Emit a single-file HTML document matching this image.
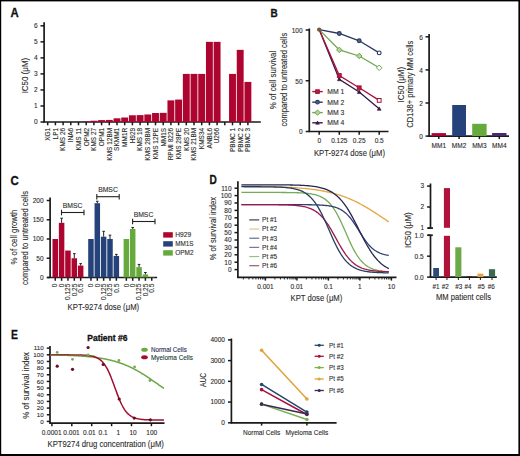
<!DOCTYPE html>
<html><head><meta charset="utf-8"><style>
html,body{margin:0;padding:0;background:#fff;}
body{width:520px;height:456px;overflow:hidden;position:relative;}
svg{position:absolute;left:0;top:0;font-family:"Liberation Sans", sans-serif;}
.frame{position:absolute;left:0;top:0;width:520px;height:456px;box-sizing:border-box;border-style:solid;border-color:#000;border-width:1px 2px 2px 1px;}
</style></head><body>
<svg width="520" height="456" viewBox="0 0 520 456" font-family='"Liberation Sans", sans-serif'>
<text x="10.60" y="16.90" font-size="12" text-anchor="start" font-weight="bold" fill="#111" stroke="#111" stroke-width="0.3" textLength="8.2" lengthAdjust="spacingAndGlyphs">A</text>
<line x1="44.10" y1="22.30" x2="44.10" y2="122.60" stroke="#1a1a1a" stroke-width="1.7"/>
<line x1="40.50" y1="122.00" x2="44.10" y2="122.00" stroke="#1a1a1a" stroke-width="1.5"/>
<text x="37.70" y="124.30" font-size="6.5" text-anchor="end" font-weight="normal" fill="#2a2a2a" stroke="#2a2a2a" stroke-width="0.1">0</text>
<line x1="40.50" y1="105.97" x2="44.10" y2="105.97" stroke="#1a1a1a" stroke-width="1.5"/>
<text x="37.70" y="108.27" font-size="6.5" text-anchor="end" font-weight="normal" fill="#2a2a2a" stroke="#2a2a2a" stroke-width="0.1">1</text>
<line x1="40.50" y1="89.94" x2="44.10" y2="89.94" stroke="#1a1a1a" stroke-width="1.5"/>
<text x="37.70" y="92.24" font-size="6.5" text-anchor="end" font-weight="normal" fill="#2a2a2a" stroke="#2a2a2a" stroke-width="0.1">2</text>
<line x1="40.50" y1="73.91" x2="44.10" y2="73.91" stroke="#1a1a1a" stroke-width="1.5"/>
<text x="37.70" y="76.21" font-size="6.5" text-anchor="end" font-weight="normal" fill="#2a2a2a" stroke="#2a2a2a" stroke-width="0.1">3</text>
<line x1="40.50" y1="57.88" x2="44.10" y2="57.88" stroke="#1a1a1a" stroke-width="1.5"/>
<text x="37.70" y="60.18" font-size="6.5" text-anchor="end" font-weight="normal" fill="#2a2a2a" stroke="#2a2a2a" stroke-width="0.1">4</text>
<line x1="40.50" y1="41.85" x2="44.10" y2="41.85" stroke="#1a1a1a" stroke-width="1.5"/>
<text x="37.70" y="44.15" font-size="6.5" text-anchor="end" font-weight="normal" fill="#2a2a2a" stroke="#2a2a2a" stroke-width="0.1">5</text>
<line x1="40.50" y1="25.82" x2="44.10" y2="25.82" stroke="#1a1a1a" stroke-width="1.5"/>
<text x="37.70" y="28.12" font-size="6.5" text-anchor="end" font-weight="normal" fill="#2a2a2a" stroke="#2a2a2a" stroke-width="0.1">6</text>
<text transform="translate(28.30,75.60) rotate(-90)" font-size="8.8" text-anchor="middle" font-weight="normal" fill="#2a2a2a" stroke="#2a2a2a" stroke-width="0.1" textLength="35.5" lengthAdjust="spacingAndGlyphs">IC50 (μM)</text>
<line x1="43.50" y1="122.00" x2="260.80" y2="122.00" stroke="#1a1a1a" stroke-width="1.7"/>
<line x1="47.70" y1="122.00" x2="47.70" y2="125.30" stroke="#1a1a1a" stroke-width="1.5"/>
<text transform="translate(50.00,127.80) rotate(-90)" font-size="6.5" text-anchor="end" font-weight="normal" fill="#2a2a2a" stroke="#2a2a2a" stroke-width="0.1">XG1</text>
<line x1="55.40" y1="122.00" x2="55.40" y2="125.30" stroke="#1a1a1a" stroke-width="1.5"/>
<text transform="translate(57.70,127.80) rotate(-90)" font-size="6.5" text-anchor="end" font-weight="normal" fill="#2a2a2a" stroke="#2a2a2a" stroke-width="0.1">LP1</text>
<line x1="63.10" y1="122.00" x2="63.10" y2="125.30" stroke="#1a1a1a" stroke-width="1.5"/>
<text transform="translate(65.40,127.80) rotate(-90)" font-size="6.5" text-anchor="end" font-weight="normal" fill="#2a2a2a" stroke="#2a2a2a" stroke-width="0.1">KMS 26</text>
<line x1="70.80" y1="122.00" x2="70.80" y2="125.30" stroke="#1a1a1a" stroke-width="1.5"/>
<text transform="translate(73.10,127.80) rotate(-90)" font-size="6.5" text-anchor="end" font-weight="normal" fill="#2a2a2a" stroke="#2a2a2a" stroke-width="0.1">INA6</text>
<rect x="75.05" y="121.84" width="6.90" height="0.16" fill="#ae0530"/>
<line x1="78.50" y1="122.00" x2="78.50" y2="125.30" stroke="#1a1a1a" stroke-width="1.5"/>
<text transform="translate(80.80,127.80) rotate(-90)" font-size="6.5" text-anchor="end" font-weight="normal" fill="#2a2a2a" stroke="#2a2a2a" stroke-width="0.1">KMS 11</text>
<rect x="82.75" y="121.52" width="6.90" height="0.48" fill="#ae0530"/>
<line x1="86.20" y1="122.00" x2="86.20" y2="125.30" stroke="#1a1a1a" stroke-width="1.5"/>
<text transform="translate(88.50,127.80) rotate(-90)" font-size="6.5" text-anchor="end" font-weight="normal" fill="#2a2a2a" stroke="#2a2a2a" stroke-width="0.1">OPM2</text>
<rect x="90.45" y="120.72" width="6.90" height="1.28" fill="#ae0530"/>
<line x1="93.90" y1="122.00" x2="93.90" y2="125.30" stroke="#1a1a1a" stroke-width="1.5"/>
<text transform="translate(96.20,127.80) rotate(-90)" font-size="6.5" text-anchor="end" font-weight="normal" fill="#2a2a2a" stroke="#2a2a2a" stroke-width="0.1">KMS 27</text>
<rect x="98.15" y="120.08" width="6.90" height="1.92" fill="#ae0530"/>
<line x1="101.60" y1="122.00" x2="101.60" y2="125.30" stroke="#1a1a1a" stroke-width="1.5"/>
<text transform="translate(103.90,127.80) rotate(-90)" font-size="6.5" text-anchor="end" font-weight="normal" fill="#2a2a2a" stroke="#2a2a2a" stroke-width="0.1">OPM1</text>
<rect x="105.85" y="119.92" width="6.90" height="2.08" fill="#ae0530"/>
<line x1="109.30" y1="122.00" x2="109.30" y2="125.30" stroke="#1a1a1a" stroke-width="1.5"/>
<text transform="translate(111.60,127.80) rotate(-90)" font-size="6.5" text-anchor="end" font-weight="normal" fill="#2a2a2a" stroke="#2a2a2a" stroke-width="0.1">KMS 12BM</text>
<rect x="113.55" y="118.31" width="6.90" height="3.69" fill="#ae0530"/>
<line x1="117.00" y1="122.00" x2="117.00" y2="125.30" stroke="#1a1a1a" stroke-width="1.5"/>
<text transform="translate(119.30,127.80) rotate(-90)" font-size="6.5" text-anchor="end" font-weight="normal" fill="#2a2a2a" stroke="#2a2a2a" stroke-width="0.1">SKMM1</text>
<rect x="121.25" y="117.51" width="6.90" height="4.49" fill="#ae0530"/>
<line x1="124.70" y1="122.00" x2="124.70" y2="125.30" stroke="#1a1a1a" stroke-width="1.5"/>
<text transform="translate(127.00,127.80) rotate(-90)" font-size="6.5" text-anchor="end" font-weight="normal" fill="#2a2a2a" stroke="#2a2a2a" stroke-width="0.1">MM1R</text>
<rect x="128.95" y="115.27" width="6.90" height="6.73" fill="#ae0530"/>
<line x1="132.40" y1="122.00" x2="132.40" y2="125.30" stroke="#1a1a1a" stroke-width="1.5"/>
<text transform="translate(134.70,127.80) rotate(-90)" font-size="6.5" text-anchor="end" font-weight="normal" fill="#2a2a2a" stroke="#2a2a2a" stroke-width="0.1">H929</text>
<rect x="136.65" y="115.11" width="6.90" height="6.89" fill="#ae0530"/>
<line x1="140.10" y1="122.00" x2="140.10" y2="125.30" stroke="#1a1a1a" stroke-width="1.5"/>
<text transform="translate(142.40,127.80) rotate(-90)" font-size="6.5" text-anchor="end" font-weight="normal" fill="#2a2a2a" stroke="#2a2a2a" stroke-width="0.1">KMS 18</text>
<rect x="144.35" y="114.47" width="6.90" height="7.53" fill="#ae0530"/>
<line x1="147.80" y1="122.00" x2="147.80" y2="125.30" stroke="#1a1a1a" stroke-width="1.5"/>
<text transform="translate(150.10,127.80) rotate(-90)" font-size="6.5" text-anchor="end" font-weight="normal" fill="#2a2a2a" stroke="#2a2a2a" stroke-width="0.1">KMS 28BM</text>
<rect x="152.05" y="113.02" width="6.90" height="8.98" fill="#ae0530"/>
<line x1="155.50" y1="122.00" x2="155.50" y2="125.30" stroke="#1a1a1a" stroke-width="1.5"/>
<text transform="translate(157.80,127.80) rotate(-90)" font-size="6.5" text-anchor="end" font-weight="normal" fill="#2a2a2a" stroke="#2a2a2a" stroke-width="0.1">KMS 12PE</text>
<rect x="159.75" y="112.86" width="6.90" height="9.14" fill="#ae0530"/>
<line x1="163.20" y1="122.00" x2="163.20" y2="125.30" stroke="#1a1a1a" stroke-width="1.5"/>
<text transform="translate(165.50,127.80) rotate(-90)" font-size="6.5" text-anchor="end" font-weight="normal" fill="#2a2a2a" stroke="#2a2a2a" stroke-width="0.1">MM1S</text>
<rect x="167.45" y="100.36" width="6.90" height="21.64" fill="#ae0530"/>
<line x1="170.90" y1="122.00" x2="170.90" y2="125.30" stroke="#1a1a1a" stroke-width="1.5"/>
<text transform="translate(173.20,127.80) rotate(-90)" font-size="6.5" text-anchor="end" font-weight="normal" fill="#2a2a2a" stroke="#2a2a2a" stroke-width="0.1">RPMI 8226</text>
<rect x="175.15" y="99.56" width="6.90" height="22.44" fill="#ae0530"/>
<line x1="178.60" y1="122.00" x2="178.60" y2="125.30" stroke="#1a1a1a" stroke-width="1.5"/>
<text transform="translate(180.90,127.80) rotate(-90)" font-size="6.5" text-anchor="end" font-weight="normal" fill="#2a2a2a" stroke="#2a2a2a" stroke-width="0.1">KMS 28PE</text>
<rect x="182.85" y="73.91" width="6.90" height="48.09" fill="#ae0530"/>
<line x1="186.30" y1="122.00" x2="186.30" y2="125.30" stroke="#1a1a1a" stroke-width="1.5"/>
<text transform="translate(188.60,127.80) rotate(-90)" font-size="6.5" text-anchor="end" font-weight="normal" fill="#2a2a2a" stroke="#2a2a2a" stroke-width="0.1">KMS 20</text>
<rect x="190.55" y="73.91" width="6.90" height="48.09" fill="#ae0530"/>
<line x1="194.00" y1="122.00" x2="194.00" y2="125.30" stroke="#1a1a1a" stroke-width="1.5"/>
<text transform="translate(196.30,127.80) rotate(-90)" font-size="6.5" text-anchor="end" font-weight="normal" fill="#2a2a2a" stroke="#2a2a2a" stroke-width="0.1">KMS 21BM</text>
<rect x="198.25" y="73.91" width="6.90" height="48.09" fill="#ae0530"/>
<line x1="201.70" y1="122.00" x2="201.70" y2="125.30" stroke="#1a1a1a" stroke-width="1.5"/>
<text transform="translate(204.00,127.80) rotate(-90)" font-size="6.5" text-anchor="end" font-weight="normal" fill="#2a2a2a" stroke="#2a2a2a" stroke-width="0.1">KMS34</text>
<rect x="205.95" y="41.85" width="6.90" height="80.15" fill="#ae0530"/>
<line x1="209.40" y1="122.00" x2="209.40" y2="125.30" stroke="#1a1a1a" stroke-width="1.5"/>
<text transform="translate(211.70,127.80) rotate(-90)" font-size="6.5" text-anchor="end" font-weight="normal" fill="#2a2a2a" stroke="#2a2a2a" stroke-width="0.1">ANBL6</text>
<rect x="213.65" y="41.85" width="6.90" height="80.15" fill="#ae0530"/>
<line x1="217.10" y1="122.00" x2="217.10" y2="125.30" stroke="#1a1a1a" stroke-width="1.5"/>
<text transform="translate(219.40,127.80) rotate(-90)" font-size="6.5" text-anchor="end" font-weight="normal" fill="#2a2a2a" stroke="#2a2a2a" stroke-width="0.1">U266</text>
<line x1="224.80" y1="122.00" x2="224.80" y2="125.30" stroke="#1a1a1a" stroke-width="1.5"/>
<rect x="229.05" y="73.91" width="6.90" height="48.09" fill="#ae0530"/>
<line x1="232.50" y1="122.00" x2="232.50" y2="125.30" stroke="#1a1a1a" stroke-width="1.5"/>
<text transform="translate(234.80,127.80) rotate(-90)" font-size="6.5" text-anchor="end" font-weight="normal" fill="#2a2a2a" stroke="#2a2a2a" stroke-width="0.1">PBMC 1</text>
<rect x="236.75" y="49.86" width="6.90" height="72.14" fill="#ae0530"/>
<line x1="240.20" y1="122.00" x2="240.20" y2="125.30" stroke="#1a1a1a" stroke-width="1.5"/>
<text transform="translate(242.50,127.80) rotate(-90)" font-size="6.5" text-anchor="end" font-weight="normal" fill="#2a2a2a" stroke="#2a2a2a" stroke-width="0.1">PBMC 2</text>
<rect x="244.45" y="81.92" width="6.90" height="40.08" fill="#ae0530"/>
<line x1="247.90" y1="122.00" x2="247.90" y2="125.30" stroke="#1a1a1a" stroke-width="1.5"/>
<text transform="translate(250.20,127.80) rotate(-90)" font-size="6.5" text-anchor="end" font-weight="normal" fill="#2a2a2a" stroke="#2a2a2a" stroke-width="0.1">PBMC 3</text>
<text x="270.50" y="16.80" font-size="11.8" text-anchor="start" font-weight="bold" fill="#111" stroke="#111" stroke-width="0.3" textLength="7.2" lengthAdjust="spacingAndGlyphs">B</text>
<line x1="309.30" y1="28.50" x2="309.30" y2="132.10" stroke="#1a1a1a" stroke-width="1.7"/>
<line x1="305.70" y1="131.50" x2="309.30" y2="131.50" stroke="#1a1a1a" stroke-width="1.5"/>
<text x="302.60" y="134.30" font-size="6.5" text-anchor="end" font-weight="normal" fill="#2a2a2a" stroke="#2a2a2a" stroke-width="0.1">0</text>
<line x1="305.70" y1="80.75" x2="309.30" y2="80.75" stroke="#1a1a1a" stroke-width="1.5"/>
<text x="302.60" y="83.55" font-size="6.5" text-anchor="end" font-weight="normal" fill="#2a2a2a" stroke="#2a2a2a" stroke-width="0.1">50</text>
<line x1="305.70" y1="30.00" x2="309.30" y2="30.00" stroke="#1a1a1a" stroke-width="1.5"/>
<text x="302.60" y="32.80" font-size="6.5" text-anchor="end" font-weight="normal" fill="#2a2a2a" stroke="#2a2a2a" stroke-width="0.1">100</text>
<line x1="308.70" y1="131.50" x2="388.50" y2="131.50" stroke="#1a1a1a" stroke-width="1.7"/>
<line x1="319.20" y1="131.50" x2="319.20" y2="134.80" stroke="#1a1a1a" stroke-width="1.5"/>
<text x="319.20" y="143.20" font-size="6.5" text-anchor="middle" font-weight="normal" fill="#2a2a2a" stroke="#2a2a2a" stroke-width="0.1">0</text>
<line x1="339.30" y1="131.50" x2="339.30" y2="134.80" stroke="#1a1a1a" stroke-width="1.5"/>
<text x="339.30" y="143.20" font-size="6.5" text-anchor="middle" font-weight="normal" fill="#2a2a2a" stroke="#2a2a2a" stroke-width="0.1">0.125</text>
<line x1="359.20" y1="131.50" x2="359.20" y2="134.80" stroke="#1a1a1a" stroke-width="1.5"/>
<text x="359.20" y="143.20" font-size="6.5" text-anchor="middle" font-weight="normal" fill="#2a2a2a" stroke="#2a2a2a" stroke-width="0.1">0.25</text>
<line x1="379.20" y1="131.50" x2="379.20" y2="134.80" stroke="#1a1a1a" stroke-width="1.5"/>
<text x="379.20" y="143.20" font-size="6.5" text-anchor="middle" font-weight="normal" fill="#2a2a2a" stroke="#2a2a2a" stroke-width="0.1">0.5</text>
<text x="349.50" y="156.30" font-size="8.8" text-anchor="middle" font-weight="normal" fill="#2a2a2a" stroke="#2a2a2a" stroke-width="0.1" textLength="71" lengthAdjust="spacingAndGlyphs">KPT-9274 dose (μM)</text>
<text transform="translate(276.30,80.00) rotate(-90)" font-size="8.8" text-anchor="middle" font-weight="normal" fill="#2a2a2a" stroke="#2a2a2a" stroke-width="0.1" textLength="58.4" lengthAdjust="spacingAndGlyphs">% of cell survival</text>
<text transform="translate(286.60,79.65) rotate(-90)" font-size="8.8" text-anchor="middle" font-weight="normal" fill="#2a2a2a" stroke="#2a2a2a" stroke-width="0.1" textLength="93.7" lengthAdjust="spacingAndGlyphs">compared to untreated cells</text>
<path d="M319.20,29.60 L339.30,79.20 L359.20,92.00 L379.20,108.80" stroke="#34184a" stroke-width="1.3" fill="none"/>
<path d="M319.20,29.60 L339.30,49.90 L359.20,56.00 L379.20,67.80" stroke="#70a44c" stroke-width="1.3" fill="none"/>
<path d="M319.20,29.60 L339.30,33.50 L359.20,40.80 L379.20,52.90" stroke="#283862" stroke-width="1.3" fill="none"/>
<path d="M319.20,29.60 L339.30,75.50 L359.20,87.80 L379.20,100.40" stroke="#a8103a" stroke-width="1.3" fill="none"/>
<path d="M339.30,77.30 L341.20,80.72 L337.40,80.72 Z" fill="#34184a" stroke="#34184a" stroke-width="0.6"/>
<path d="M359.20,90.10 L361.10,93.52 L357.30,93.52 Z" fill="#34184a" stroke="#34184a" stroke-width="0.6"/>
<path d="M379.20,106.90 L381.10,110.32 L377.30,110.32 Z" fill="#34184a" stroke="#34184a" stroke-width="0.6"/>
<path d="M339.30,47.14 L342.06,49.90 L339.30,52.66 L336.55,49.90 Z" fill="#b6d4a0" stroke="#70a44c" stroke-width="1.0"/>
<path d="M359.20,53.24 L361.95,56.00 L359.20,58.76 L356.44,56.00 Z" fill="#b6d4a0" stroke="#70a44c" stroke-width="1.0"/>
<path d="M379.20,65.05 L381.95,67.80 L379.20,70.55 L376.44,67.80 Z" fill="#fff" stroke="#70a44c" stroke-width="1.0"/>
<circle cx="339.30" cy="33.50" r="1.90" fill="#56648a" stroke="#283862" stroke-width="1.1"/>
<circle cx="359.20" cy="40.80" r="1.90" fill="#56648a" stroke="#283862" stroke-width="1.1"/>
<circle cx="379.20" cy="52.90" r="1.90" fill="#fff" stroke="#283862" stroke-width="1.1"/>
<rect x="337.40" y="73.60" width="3.80" height="3.80" fill="#b02040" stroke="#a8103a" stroke-width="1.0"/>
<rect x="357.30" y="85.90" width="3.80" height="3.80" fill="#b02040" stroke="#a8103a" stroke-width="1.0"/>
<rect x="377.30" y="98.50" width="3.80" height="3.80" fill="#fff" stroke="#a8103a" stroke-width="1.0"/>
<circle cx="319.2" cy="29.6" r="2.2" fill="#7a5a3a"/>
<line x1="312.30" y1="91.60" x2="322.70" y2="91.60" stroke="#a8103a" stroke-width="1.4"/>
<rect x="315.70" y="89.80" width="3.60" height="3.60" fill="#b02040" stroke="#a8103a" stroke-width="1.0"/>
<text x="327.30" y="94.00" font-size="6.8" text-anchor="start" font-weight="normal" fill="#2a2a2a" stroke="#2a2a2a" stroke-width="0.1">MM 1</text>
<line x1="312.30" y1="102.20" x2="322.70" y2="102.20" stroke="#283862" stroke-width="1.4"/>
<circle cx="317.50" cy="102.20" r="1.80" fill="#56648a" stroke="#283862" stroke-width="1.1"/>
<text x="327.30" y="104.60" font-size="6.8" text-anchor="start" font-weight="normal" fill="#2a2a2a" stroke="#2a2a2a" stroke-width="0.1">MM 2</text>
<line x1="312.30" y1="112.60" x2="322.70" y2="112.60" stroke="#70a44c" stroke-width="1.4"/>
<path d="M317.50,109.99 L320.11,112.60 L317.50,115.21 L314.89,112.60 Z" fill="#b6d4a0" stroke="#70a44c" stroke-width="1.0"/>
<text x="327.30" y="115.00" font-size="6.8" text-anchor="start" font-weight="normal" fill="#2a2a2a" stroke="#2a2a2a" stroke-width="0.1">MM 3</text>
<line x1="312.30" y1="122.80" x2="322.70" y2="122.80" stroke="#34184a" stroke-width="1.4"/>
<path d="M317.50,121.00 L319.30,124.24 L315.70,124.24 Z" fill="#34184a" stroke="#34184a" stroke-width="0.6"/>
<text x="327.30" y="125.20" font-size="6.8" text-anchor="start" font-weight="normal" fill="#2a2a2a" stroke="#2a2a2a" stroke-width="0.1">MM 4</text>
<line x1="429.10" y1="34.00" x2="429.10" y2="136.70" stroke="#1a1a1a" stroke-width="1.7"/>
<line x1="425.50" y1="136.10" x2="429.10" y2="136.10" stroke="#1a1a1a" stroke-width="1.5"/>
<text x="422.90" y="139.00" font-size="6.5" text-anchor="end" font-weight="normal" fill="#2a2a2a" stroke="#2a2a2a" stroke-width="0.1">0</text>
<line x1="425.50" y1="103.00" x2="429.10" y2="103.00" stroke="#1a1a1a" stroke-width="1.5"/>
<text x="422.90" y="105.90" font-size="6.5" text-anchor="end" font-weight="normal" fill="#2a2a2a" stroke="#2a2a2a" stroke-width="0.1">2</text>
<line x1="425.50" y1="69.90" x2="429.10" y2="69.90" stroke="#1a1a1a" stroke-width="1.5"/>
<text x="422.90" y="72.80" font-size="6.5" text-anchor="end" font-weight="normal" fill="#2a2a2a" stroke="#2a2a2a" stroke-width="0.1">4</text>
<line x1="425.50" y1="36.80" x2="429.10" y2="36.80" stroke="#1a1a1a" stroke-width="1.5"/>
<text x="422.90" y="39.70" font-size="6.5" text-anchor="end" font-weight="normal" fill="#2a2a2a" stroke="#2a2a2a" stroke-width="0.1">6</text>
<line x1="428.50" y1="136.10" x2="509.00" y2="136.10" stroke="#1a1a1a" stroke-width="1.7"/>
<rect x="431.60" y="133.10" width="14.40" height="3.00" fill="#ae0530"/>
<line x1="438.80" y1="136.10" x2="438.80" y2="139.10" stroke="#1a1a1a" stroke-width="1.5"/>
<text x="438.80" y="148.30" font-size="6.5" text-anchor="middle" font-weight="normal" fill="#2a2a2a" stroke="#2a2a2a" stroke-width="0.1">MM1</text>
<rect x="452.20" y="105.00" width="13.80" height="31.10" fill="#26427a"/>
<line x1="459.10" y1="136.10" x2="459.10" y2="139.10" stroke="#1a1a1a" stroke-width="1.5"/>
<text x="459.10" y="148.30" font-size="6.5" text-anchor="middle" font-weight="normal" fill="#2a2a2a" stroke="#2a2a2a" stroke-width="0.1">MM2</text>
<rect x="472.20" y="123.80" width="14.40" height="12.30" fill="#66aa3e"/>
<line x1="479.40" y1="136.10" x2="479.40" y2="139.10" stroke="#1a1a1a" stroke-width="1.5"/>
<text x="479.40" y="148.30" font-size="6.5" text-anchor="middle" font-weight="normal" fill="#2a2a2a" stroke="#2a2a2a" stroke-width="0.1">MM3</text>
<rect x="492.10" y="133.00" width="14.40" height="3.10" fill="#4a2a6a"/>
<line x1="499.30" y1="136.10" x2="499.30" y2="139.10" stroke="#1a1a1a" stroke-width="1.5"/>
<text x="499.30" y="148.30" font-size="6.5" text-anchor="middle" font-weight="normal" fill="#2a2a2a" stroke="#2a2a2a" stroke-width="0.1">MM4</text>
<text transform="translate(404.20,84.70) rotate(-90)" font-size="8.8" text-anchor="middle" font-weight="normal" fill="#2a2a2a" stroke="#2a2a2a" stroke-width="0.1" textLength="35.5" lengthAdjust="spacingAndGlyphs">IC50 (μM)</text>
<text transform="translate(413.20,84.20) rotate(-90)" font-size="8.8" text-anchor="middle" font-weight="normal" fill="#2a2a2a" stroke="#2a2a2a" stroke-width="0.1" textLength="87" lengthAdjust="spacingAndGlyphs">CD138+ primary MM cells</text>
<text x="10.50" y="185.30" font-size="12" text-anchor="start" font-weight="bold" fill="#111" stroke="#111" stroke-width="0.3" textLength="8.3" lengthAdjust="spacingAndGlyphs">C</text>
<line x1="50.10" y1="197.50" x2="50.10" y2="278.10" stroke="#1a1a1a" stroke-width="1.7"/>
<line x1="46.70" y1="277.50" x2="50.10" y2="277.50" stroke="#1a1a1a" stroke-width="1.5"/>
<text x="43.60" y="279.80" font-size="6.5" text-anchor="end" font-weight="normal" fill="#2a2a2a" stroke="#2a2a2a" stroke-width="0.1">0</text>
<line x1="46.70" y1="258.25" x2="50.10" y2="258.25" stroke="#1a1a1a" stroke-width="1.5"/>
<text x="43.60" y="260.55" font-size="6.5" text-anchor="end" font-weight="normal" fill="#2a2a2a" stroke="#2a2a2a" stroke-width="0.1">50</text>
<line x1="46.70" y1="239.00" x2="50.10" y2="239.00" stroke="#1a1a1a" stroke-width="1.5"/>
<text x="43.60" y="241.30" font-size="6.5" text-anchor="end" font-weight="normal" fill="#2a2a2a" stroke="#2a2a2a" stroke-width="0.1">100</text>
<line x1="46.70" y1="219.75" x2="50.10" y2="219.75" stroke="#1a1a1a" stroke-width="1.5"/>
<text x="43.60" y="222.05" font-size="6.5" text-anchor="end" font-weight="normal" fill="#2a2a2a" stroke="#2a2a2a" stroke-width="0.1">150</text>
<line x1="46.70" y1="200.50" x2="50.10" y2="200.50" stroke="#1a1a1a" stroke-width="1.5"/>
<text x="43.60" y="202.80" font-size="6.5" text-anchor="end" font-weight="normal" fill="#2a2a2a" stroke="#2a2a2a" stroke-width="0.1">200</text>
<line x1="47.20" y1="277.50" x2="157.10" y2="277.50" stroke="#1a1a1a" stroke-width="1.7"/>
<rect x="52.50" y="239.00" width="5.50" height="38.50" fill="#ae0530"/>
<line x1="55.25" y1="277.50" x2="55.25" y2="280.80" stroke="#1a1a1a" stroke-width="1.5"/>
<text transform="translate(57.45,283.70) rotate(-90)" font-size="6.5" text-anchor="end" font-weight="normal" fill="#2a2a2a" stroke="#2a2a2a" stroke-width="0.1">0</text>
<rect x="58.85" y="222.83" width="5.50" height="54.67" fill="#ae0530"/>
<line x1="61.60" y1="222.83" x2="61.60" y2="218.21" stroke="#222" stroke-width="1.0"/>
<line x1="60.30" y1="218.21" x2="62.90" y2="218.21" stroke="#222" stroke-width="1.0"/>
<line x1="61.60" y1="277.50" x2="61.60" y2="280.80" stroke="#1a1a1a" stroke-width="1.5"/>
<text transform="translate(63.80,283.70) rotate(-90)" font-size="6.5" text-anchor="end" font-weight="normal" fill="#2a2a2a" stroke="#2a2a2a" stroke-width="0.1">0</text>
<rect x="65.20" y="250.55" width="5.50" height="26.95" fill="#ae0530"/>
<line x1="67.95" y1="277.50" x2="67.95" y2="280.80" stroke="#1a1a1a" stroke-width="1.5"/>
<text transform="translate(70.15,283.70) rotate(-90)" font-size="6.5" text-anchor="end" font-weight="normal" fill="#2a2a2a" stroke="#2a2a2a" stroke-width="0.1">0.125</text>
<rect x="71.55" y="258.25" width="5.50" height="19.25" fill="#ae0530"/>
<line x1="74.30" y1="258.25" x2="74.30" y2="253.63" stroke="#222" stroke-width="1.0"/>
<line x1="73.00" y1="253.63" x2="75.60" y2="253.63" stroke="#222" stroke-width="1.0"/>
<line x1="74.30" y1="277.50" x2="74.30" y2="280.80" stroke="#1a1a1a" stroke-width="1.5"/>
<text transform="translate(76.50,283.70) rotate(-90)" font-size="6.5" text-anchor="end" font-weight="normal" fill="#2a2a2a" stroke="#2a2a2a" stroke-width="0.1">0.25</text>
<rect x="77.90" y="265.56" width="5.50" height="11.94" fill="#ae0530"/>
<line x1="80.65" y1="265.56" x2="80.65" y2="263.64" stroke="#222" stroke-width="1.0"/>
<line x1="79.35" y1="263.64" x2="81.95" y2="263.64" stroke="#222" stroke-width="1.0"/>
<line x1="80.65" y1="277.50" x2="80.65" y2="280.80" stroke="#1a1a1a" stroke-width="1.5"/>
<text transform="translate(82.85,283.70) rotate(-90)" font-size="6.5" text-anchor="end" font-weight="normal" fill="#2a2a2a" stroke="#2a2a2a" stroke-width="0.1">0.5</text>
<rect x="88.20" y="239.00" width="5.50" height="38.50" fill="#26427a"/>
<line x1="90.95" y1="277.50" x2="90.95" y2="280.80" stroke="#1a1a1a" stroke-width="1.5"/>
<text transform="translate(93.15,283.70) rotate(-90)" font-size="6.5" text-anchor="end" font-weight="normal" fill="#2a2a2a" stroke="#2a2a2a" stroke-width="0.1">0</text>
<rect x="94.55" y="203.19" width="5.50" height="74.31" fill="#26427a"/>
<line x1="97.30" y1="203.19" x2="97.30" y2="201.27" stroke="#222" stroke-width="1.0"/>
<line x1="96.00" y1="201.27" x2="98.60" y2="201.27" stroke="#222" stroke-width="1.0"/>
<line x1="97.30" y1="277.50" x2="97.30" y2="280.80" stroke="#1a1a1a" stroke-width="1.5"/>
<text transform="translate(99.50,283.70) rotate(-90)" font-size="6.5" text-anchor="end" font-weight="normal" fill="#2a2a2a" stroke="#2a2a2a" stroke-width="0.1">0</text>
<rect x="100.90" y="236.69" width="5.50" height="40.81" fill="#26427a"/>
<line x1="103.65" y1="236.69" x2="103.65" y2="231.30" stroke="#222" stroke-width="1.0"/>
<line x1="102.35" y1="231.30" x2="104.95" y2="231.30" stroke="#222" stroke-width="1.0"/>
<line x1="103.65" y1="277.50" x2="103.65" y2="280.80" stroke="#1a1a1a" stroke-width="1.5"/>
<text transform="translate(105.85,283.70) rotate(-90)" font-size="6.5" text-anchor="end" font-weight="normal" fill="#2a2a2a" stroke="#2a2a2a" stroke-width="0.1">0.125</text>
<rect x="107.25" y="239.00" width="5.50" height="38.50" fill="#26427a"/>
<line x1="110.00" y1="239.00" x2="110.00" y2="235.15" stroke="#222" stroke-width="1.0"/>
<line x1="108.70" y1="235.15" x2="111.30" y2="235.15" stroke="#222" stroke-width="1.0"/>
<line x1="110.00" y1="277.50" x2="110.00" y2="280.80" stroke="#1a1a1a" stroke-width="1.5"/>
<text transform="translate(112.20,283.70) rotate(-90)" font-size="6.5" text-anchor="end" font-weight="normal" fill="#2a2a2a" stroke="#2a2a2a" stroke-width="0.1">0.25</text>
<rect x="113.60" y="255.94" width="5.50" height="21.56" fill="#26427a"/>
<line x1="116.35" y1="255.94" x2="116.35" y2="254.40" stroke="#222" stroke-width="1.0"/>
<line x1="115.05" y1="254.40" x2="117.65" y2="254.40" stroke="#222" stroke-width="1.0"/>
<line x1="116.35" y1="277.50" x2="116.35" y2="280.80" stroke="#1a1a1a" stroke-width="1.5"/>
<text transform="translate(118.55,283.70) rotate(-90)" font-size="6.5" text-anchor="end" font-weight="normal" fill="#2a2a2a" stroke="#2a2a2a" stroke-width="0.1">0.5</text>
<rect x="123.60" y="239.00" width="5.50" height="38.50" fill="#66aa3e"/>
<line x1="126.35" y1="277.50" x2="126.35" y2="280.80" stroke="#1a1a1a" stroke-width="1.5"/>
<text transform="translate(128.55,283.70) rotate(-90)" font-size="6.5" text-anchor="end" font-weight="normal" fill="#2a2a2a" stroke="#2a2a2a" stroke-width="0.1">0</text>
<rect x="129.95" y="228.99" width="5.50" height="48.51" fill="#66aa3e"/>
<line x1="132.70" y1="228.99" x2="132.70" y2="227.45" stroke="#222" stroke-width="1.0"/>
<line x1="131.40" y1="227.45" x2="134.00" y2="227.45" stroke="#222" stroke-width="1.0"/>
<line x1="132.70" y1="277.50" x2="132.70" y2="280.80" stroke="#1a1a1a" stroke-width="1.5"/>
<text transform="translate(134.90,283.70) rotate(-90)" font-size="6.5" text-anchor="end" font-weight="normal" fill="#2a2a2a" stroke="#2a2a2a" stroke-width="0.1">0</text>
<rect x="136.30" y="267.11" width="5.50" height="10.40" fill="#66aa3e"/>
<line x1="139.05" y1="267.11" x2="139.05" y2="264.41" stroke="#222" stroke-width="1.0"/>
<line x1="137.75" y1="264.41" x2="140.35" y2="264.41" stroke="#222" stroke-width="1.0"/>
<line x1="139.05" y1="277.50" x2="139.05" y2="280.80" stroke="#1a1a1a" stroke-width="1.5"/>
<text transform="translate(141.25,283.70) rotate(-90)" font-size="6.5" text-anchor="end" font-weight="normal" fill="#2a2a2a" stroke="#2a2a2a" stroke-width="0.1">0.125</text>
<rect x="142.65" y="274.42" width="5.50" height="3.08" fill="#66aa3e"/>
<line x1="145.40" y1="274.42" x2="145.40" y2="272.50" stroke="#222" stroke-width="1.0"/>
<line x1="144.10" y1="272.50" x2="146.70" y2="272.50" stroke="#222" stroke-width="1.0"/>
<line x1="145.40" y1="277.50" x2="145.40" y2="280.80" stroke="#1a1a1a" stroke-width="1.5"/>
<text transform="translate(147.60,283.70) rotate(-90)" font-size="6.5" text-anchor="end" font-weight="normal" fill="#2a2a2a" stroke="#2a2a2a" stroke-width="0.1">0.25</text>
<rect x="149.00" y="277.12" width="5.50" height="0.39" fill="#66aa3e"/>
<line x1="151.75" y1="277.50" x2="151.75" y2="280.80" stroke="#1a1a1a" stroke-width="1.5"/>
<text transform="translate(153.95,283.70) rotate(-90)" font-size="6.5" text-anchor="end" font-weight="normal" fill="#2a2a2a" stroke="#2a2a2a" stroke-width="0.1">0.5</text>
<line x1="61.50" y1="212.50" x2="84.00" y2="212.50" stroke="#222" stroke-width="1.1"/>
<line x1="61.50" y1="209.70" x2="61.50" y2="215.30" stroke="#222" stroke-width="1.1"/>
<line x1="84.00" y1="209.70" x2="84.00" y2="215.30" stroke="#222" stroke-width="1.1"/>
<text x="72.60" y="207.80" font-size="6.8" text-anchor="middle" font-weight="normal" fill="#2a2a2a" stroke="#2a2a2a" stroke-width="0.1">BMSC</text>
<line x1="96.80" y1="196.70" x2="119.20" y2="196.70" stroke="#222" stroke-width="1.1"/>
<line x1="96.80" y1="193.90" x2="96.80" y2="199.50" stroke="#222" stroke-width="1.1"/>
<line x1="119.20" y1="193.90" x2="119.20" y2="199.50" stroke="#222" stroke-width="1.1"/>
<text x="108.00" y="192.00" font-size="6.8" text-anchor="middle" font-weight="normal" fill="#2a2a2a" stroke="#2a2a2a" stroke-width="0.1">BMSC</text>
<line x1="132.60" y1="221.50" x2="155.00" y2="221.50" stroke="#222" stroke-width="1.1"/>
<line x1="132.60" y1="218.70" x2="132.60" y2="224.30" stroke="#222" stroke-width="1.1"/>
<line x1="155.00" y1="218.70" x2="155.00" y2="224.30" stroke="#222" stroke-width="1.1"/>
<text x="143.50" y="216.80" font-size="6.8" text-anchor="middle" font-weight="normal" fill="#2a2a2a" stroke="#2a2a2a" stroke-width="0.1">BMSC</text>
<rect x="163.20" y="232.20" width="9.60" height="5.40" fill="#ae0530"/>
<text x="175.30" y="237.40" font-size="7" text-anchor="start" font-weight="normal" fill="#2a2a2a" stroke="#2a2a2a" stroke-width="0.1" textLength="15.9" lengthAdjust="spacingAndGlyphs">H929</text>
<rect x="163.20" y="241.20" width="9.60" height="5.40" fill="#26427a"/>
<text x="175.30" y="246.40" font-size="7" text-anchor="start" font-weight="normal" fill="#2a2a2a" stroke="#2a2a2a" stroke-width="0.1" textLength="18.3" lengthAdjust="spacingAndGlyphs">MM1S</text>
<rect x="163.20" y="250.20" width="9.60" height="5.40" fill="#66aa3e"/>
<text x="175.30" y="255.40" font-size="7" text-anchor="start" font-weight="normal" fill="#2a2a2a" stroke="#2a2a2a" stroke-width="0.1" textLength="18.3" lengthAdjust="spacingAndGlyphs">OPM2</text>
<text transform="translate(17.40,237.05) rotate(-90)" font-size="8.8" text-anchor="middle" font-weight="normal" fill="#2a2a2a" stroke="#2a2a2a" stroke-width="0.1" textLength="54.9" lengthAdjust="spacingAndGlyphs">% of cell growth</text>
<text transform="translate(27.50,238.00) rotate(-90)" font-size="8.8" text-anchor="middle" font-weight="normal" fill="#2a2a2a" stroke="#2a2a2a" stroke-width="0.1" textLength="94.2" lengthAdjust="spacingAndGlyphs">compared to untreated cells</text>
<text x="67.60" y="310.30" font-size="8.8" text-anchor="start" font-weight="normal" fill="#2a2a2a" stroke="#2a2a2a" stroke-width="0.1" textLength="71.6" lengthAdjust="spacingAndGlyphs">KPT-9274 dose (μM)</text>
<text x="209.50" y="183.80" font-size="12.3" text-anchor="start" font-weight="bold" fill="#111" stroke="#111" stroke-width="0.3" textLength="7.3" lengthAdjust="spacingAndGlyphs">D</text>
<line x1="237.90" y1="181.20" x2="237.90" y2="277.90" stroke="#1a1a1a" stroke-width="1.7"/>
<line x1="234.50" y1="269.60" x2="237.90" y2="269.60" stroke="#1a1a1a" stroke-width="1.5"/>
<text x="231.60" y="271.90" font-size="6.5" text-anchor="end" font-weight="normal" fill="#2a2a2a" stroke="#2a2a2a" stroke-width="0.1">0</text>
<line x1="234.50" y1="262.20" x2="237.90" y2="262.20" stroke="#1a1a1a" stroke-width="1.5"/>
<text x="231.60" y="264.50" font-size="6.5" text-anchor="end" font-weight="normal" fill="#2a2a2a" stroke="#2a2a2a" stroke-width="0.1">10</text>
<line x1="234.50" y1="254.80" x2="237.90" y2="254.80" stroke="#1a1a1a" stroke-width="1.5"/>
<text x="231.60" y="257.10" font-size="6.5" text-anchor="end" font-weight="normal" fill="#2a2a2a" stroke="#2a2a2a" stroke-width="0.1">20</text>
<line x1="234.50" y1="247.40" x2="237.90" y2="247.40" stroke="#1a1a1a" stroke-width="1.5"/>
<text x="231.60" y="249.70" font-size="6.5" text-anchor="end" font-weight="normal" fill="#2a2a2a" stroke="#2a2a2a" stroke-width="0.1">30</text>
<line x1="234.50" y1="240.00" x2="237.90" y2="240.00" stroke="#1a1a1a" stroke-width="1.5"/>
<text x="231.60" y="242.30" font-size="6.5" text-anchor="end" font-weight="normal" fill="#2a2a2a" stroke="#2a2a2a" stroke-width="0.1">40</text>
<line x1="234.50" y1="232.60" x2="237.90" y2="232.60" stroke="#1a1a1a" stroke-width="1.5"/>
<text x="231.60" y="234.90" font-size="6.5" text-anchor="end" font-weight="normal" fill="#2a2a2a" stroke="#2a2a2a" stroke-width="0.1">50</text>
<line x1="234.50" y1="225.20" x2="237.90" y2="225.20" stroke="#1a1a1a" stroke-width="1.5"/>
<text x="231.60" y="227.50" font-size="6.5" text-anchor="end" font-weight="normal" fill="#2a2a2a" stroke="#2a2a2a" stroke-width="0.1">60</text>
<line x1="234.50" y1="217.80" x2="237.90" y2="217.80" stroke="#1a1a1a" stroke-width="1.5"/>
<text x="231.60" y="220.10" font-size="6.5" text-anchor="end" font-weight="normal" fill="#2a2a2a" stroke="#2a2a2a" stroke-width="0.1">70</text>
<line x1="234.50" y1="210.40" x2="237.90" y2="210.40" stroke="#1a1a1a" stroke-width="1.5"/>
<text x="231.60" y="212.70" font-size="6.5" text-anchor="end" font-weight="normal" fill="#2a2a2a" stroke="#2a2a2a" stroke-width="0.1">80</text>
<line x1="234.50" y1="203.00" x2="237.90" y2="203.00" stroke="#1a1a1a" stroke-width="1.5"/>
<text x="231.60" y="205.30" font-size="6.5" text-anchor="end" font-weight="normal" fill="#2a2a2a" stroke="#2a2a2a" stroke-width="0.1">90</text>
<line x1="234.50" y1="195.60" x2="237.90" y2="195.60" stroke="#1a1a1a" stroke-width="1.5"/>
<text x="231.60" y="197.90" font-size="6.5" text-anchor="end" font-weight="normal" fill="#2a2a2a" stroke="#2a2a2a" stroke-width="0.1">100</text>
<line x1="234.50" y1="188.20" x2="237.90" y2="188.20" stroke="#1a1a1a" stroke-width="1.5"/>
<text x="231.60" y="190.50" font-size="6.5" text-anchor="end" font-weight="normal" fill="#2a2a2a" stroke="#2a2a2a" stroke-width="0.1">110</text>
<line x1="237.30" y1="277.30" x2="396.50" y2="277.30" stroke="#1a1a1a" stroke-width="1.7"/>
<line x1="243.38" y1="277.30" x2="243.38" y2="279.50" stroke="#1a1a1a" stroke-width="0.9"/>
<line x1="248.93" y1="277.30" x2="248.93" y2="279.50" stroke="#1a1a1a" stroke-width="0.9"/>
<line x1="252.86" y1="277.30" x2="252.86" y2="279.50" stroke="#1a1a1a" stroke-width="0.9"/>
<line x1="255.92" y1="277.30" x2="255.92" y2="279.50" stroke="#1a1a1a" stroke-width="0.9"/>
<line x1="258.41" y1="277.30" x2="258.41" y2="279.50" stroke="#1a1a1a" stroke-width="0.9"/>
<line x1="260.52" y1="277.30" x2="260.52" y2="279.50" stroke="#1a1a1a" stroke-width="0.9"/>
<line x1="262.35" y1="277.30" x2="262.35" y2="279.50" stroke="#1a1a1a" stroke-width="0.9"/>
<line x1="263.96" y1="277.30" x2="263.96" y2="279.50" stroke="#1a1a1a" stroke-width="0.9"/>
<line x1="265.40" y1="277.30" x2="265.40" y2="280.60" stroke="#1a1a1a" stroke-width="1.5"/>
<line x1="274.88" y1="277.30" x2="274.88" y2="279.50" stroke="#1a1a1a" stroke-width="0.9"/>
<line x1="280.43" y1="277.30" x2="280.43" y2="279.50" stroke="#1a1a1a" stroke-width="0.9"/>
<line x1="284.36" y1="277.30" x2="284.36" y2="279.50" stroke="#1a1a1a" stroke-width="0.9"/>
<line x1="287.42" y1="277.30" x2="287.42" y2="279.50" stroke="#1a1a1a" stroke-width="0.9"/>
<line x1="289.91" y1="277.30" x2="289.91" y2="279.50" stroke="#1a1a1a" stroke-width="0.9"/>
<line x1="292.02" y1="277.30" x2="292.02" y2="279.50" stroke="#1a1a1a" stroke-width="0.9"/>
<line x1="293.85" y1="277.30" x2="293.85" y2="279.50" stroke="#1a1a1a" stroke-width="0.9"/>
<line x1="295.46" y1="277.30" x2="295.46" y2="279.50" stroke="#1a1a1a" stroke-width="0.9"/>
<line x1="296.90" y1="277.30" x2="296.90" y2="280.60" stroke="#1a1a1a" stroke-width="1.5"/>
<line x1="306.38" y1="277.30" x2="306.38" y2="279.50" stroke="#1a1a1a" stroke-width="0.9"/>
<line x1="311.93" y1="277.30" x2="311.93" y2="279.50" stroke="#1a1a1a" stroke-width="0.9"/>
<line x1="315.86" y1="277.30" x2="315.86" y2="279.50" stroke="#1a1a1a" stroke-width="0.9"/>
<line x1="318.92" y1="277.30" x2="318.92" y2="279.50" stroke="#1a1a1a" stroke-width="0.9"/>
<line x1="321.41" y1="277.30" x2="321.41" y2="279.50" stroke="#1a1a1a" stroke-width="0.9"/>
<line x1="323.52" y1="277.30" x2="323.52" y2="279.50" stroke="#1a1a1a" stroke-width="0.9"/>
<line x1="325.35" y1="277.30" x2="325.35" y2="279.50" stroke="#1a1a1a" stroke-width="0.9"/>
<line x1="326.96" y1="277.30" x2="326.96" y2="279.50" stroke="#1a1a1a" stroke-width="0.9"/>
<line x1="328.40" y1="277.30" x2="328.40" y2="280.60" stroke="#1a1a1a" stroke-width="1.5"/>
<line x1="337.88" y1="277.30" x2="337.88" y2="279.50" stroke="#1a1a1a" stroke-width="0.9"/>
<line x1="343.43" y1="277.30" x2="343.43" y2="279.50" stroke="#1a1a1a" stroke-width="0.9"/>
<line x1="347.36" y1="277.30" x2="347.36" y2="279.50" stroke="#1a1a1a" stroke-width="0.9"/>
<line x1="350.42" y1="277.30" x2="350.42" y2="279.50" stroke="#1a1a1a" stroke-width="0.9"/>
<line x1="352.91" y1="277.30" x2="352.91" y2="279.50" stroke="#1a1a1a" stroke-width="0.9"/>
<line x1="355.02" y1="277.30" x2="355.02" y2="279.50" stroke="#1a1a1a" stroke-width="0.9"/>
<line x1="356.85" y1="277.30" x2="356.85" y2="279.50" stroke="#1a1a1a" stroke-width="0.9"/>
<line x1="358.46" y1="277.30" x2="358.46" y2="279.50" stroke="#1a1a1a" stroke-width="0.9"/>
<line x1="359.90" y1="277.30" x2="359.90" y2="280.60" stroke="#1a1a1a" stroke-width="1.5"/>
<line x1="369.38" y1="277.30" x2="369.38" y2="279.50" stroke="#1a1a1a" stroke-width="0.9"/>
<line x1="374.93" y1="277.30" x2="374.93" y2="279.50" stroke="#1a1a1a" stroke-width="0.9"/>
<line x1="378.86" y1="277.30" x2="378.86" y2="279.50" stroke="#1a1a1a" stroke-width="0.9"/>
<line x1="381.92" y1="277.30" x2="381.92" y2="279.50" stroke="#1a1a1a" stroke-width="0.9"/>
<line x1="384.41" y1="277.30" x2="384.41" y2="279.50" stroke="#1a1a1a" stroke-width="0.9"/>
<line x1="386.52" y1="277.30" x2="386.52" y2="279.50" stroke="#1a1a1a" stroke-width="0.9"/>
<line x1="388.35" y1="277.30" x2="388.35" y2="279.50" stroke="#1a1a1a" stroke-width="0.9"/>
<line x1="389.96" y1="277.30" x2="389.96" y2="279.50" stroke="#1a1a1a" stroke-width="0.9"/>
<line x1="391.40" y1="277.30" x2="391.40" y2="280.60" stroke="#1a1a1a" stroke-width="1.5"/>
<text x="265.40" y="289.10" font-size="6.5" text-anchor="middle" font-weight="normal" fill="#2a2a2a" stroke="#2a2a2a" stroke-width="0.1">0.001</text>
<text x="296.90" y="289.10" font-size="6.5" text-anchor="middle" font-weight="normal" fill="#2a2a2a" stroke="#2a2a2a" stroke-width="0.1">0.01</text>
<text x="328.40" y="289.10" font-size="6.5" text-anchor="middle" font-weight="normal" fill="#2a2a2a" stroke="#2a2a2a" stroke-width="0.1">0.1</text>
<text x="359.90" y="289.10" font-size="6.5" text-anchor="middle" font-weight="normal" fill="#2a2a2a" stroke="#2a2a2a" stroke-width="0.1">1</text>
<text x="391.40" y="289.10" font-size="6.5" text-anchor="middle" font-weight="normal" fill="#2a2a2a" stroke="#2a2a2a" stroke-width="0.1">10</text>
<text x="316.40" y="300.50" font-size="8.8" text-anchor="middle" font-weight="normal" fill="#2a2a2a" stroke="#2a2a2a" stroke-width="0.1" textLength="51.8" lengthAdjust="spacingAndGlyphs">KPT dose (μM)</text>
<text transform="translate(216.00,228.60) rotate(-90)" font-size="8.8" text-anchor="middle" font-weight="normal" fill="#2a2a2a" stroke="#2a2a2a" stroke-width="0.1" textLength="63.5" lengthAdjust="spacingAndGlyphs">% of survival index</text>
<path d="M241.40,186.27 L242.38,186.28 L243.37,186.29 L244.35,186.30 L245.33,186.31 L246.31,186.31 L247.30,186.32 L248.28,186.33 L249.26,186.34 L250.24,186.35 L251.23,186.37 L252.21,186.38 L253.19,186.39 L254.17,186.40 L255.16,186.41 L256.14,186.43 L257.12,186.44 L258.11,186.46 L259.09,186.47 L260.07,186.49 L261.05,186.50 L262.04,186.52 L263.02,186.54 L264.00,186.56 L264.98,186.58 L265.97,186.60 L266.95,186.62 L267.93,186.64 L268.91,186.66 L269.90,186.68 L270.88,186.71 L271.86,186.73 L272.85,186.76 L273.83,186.79 L274.81,186.82 L275.79,186.84 L276.78,186.88 L277.76,186.91 L278.74,186.94 L279.72,186.98 L280.71,187.01 L281.69,187.05 L282.67,187.09 L283.65,187.13 L284.64,187.17 L285.62,187.22 L286.60,187.26 L287.59,187.31 L288.57,187.36 L289.55,187.41 L290.53,187.46 L291.52,187.52 L292.50,187.57 L293.48,187.63 L294.46,187.70 L295.45,187.76 L296.43,187.83 L297.41,187.90 L298.39,187.97 L299.38,188.04 L300.36,188.12 L301.34,188.20 L302.33,188.29 L303.31,188.38 L304.29,188.47 L305.27,188.56 L306.26,188.66 L307.24,188.76 L308.22,188.86 L309.20,188.97 L310.19,189.09 L311.17,189.20 L312.15,189.33 L313.13,189.45 L314.12,189.58 L315.10,189.72 L316.08,189.86 L317.07,190.01 L318.05,190.16 L319.03,190.31 L320.01,190.48 L321.00,190.64 L321.98,190.82 L322.96,191.00 L323.94,191.18 L324.93,191.38 L325.91,191.58 L326.89,191.78 L327.87,192.00 L328.86,192.22 L329.84,192.44 L330.82,192.68 L331.81,192.92 L332.79,193.17 L333.77,193.43 L334.75,193.70 L335.74,193.97 L336.72,194.26 L337.70,194.55 L338.68,194.85 L339.67,195.16 L340.65,195.48 L341.63,195.81 L342.61,196.15 L343.60,196.50 L344.58,196.85 L345.56,197.22 L346.55,197.60 L347.53,197.99 L348.51,198.38 L349.49,198.79 L350.48,199.21 L351.46,199.64 L352.44,200.08 L353.42,200.52 L354.41,200.98 L355.39,201.45 L356.37,201.93 L357.35,202.42 L358.34,202.92 L359.32,203.43 L360.30,203.95 L361.29,204.48 L362.27,205.01 L363.25,205.56 L364.23,206.12 L365.22,206.68 L366.20,207.25 L367.18,207.84 L368.16,208.43 L369.15,209.02 L370.13,209.63 L371.11,210.24 L372.09,210.86 L373.08,211.48 L374.06,212.11 L375.04,212.75 L376.03,213.38 L377.01,214.03 L377.99,214.68 L378.97,215.33 L379.96,215.98 L380.94,216.64 L381.92,217.30 L382.90,217.96 L383.89,218.62 L384.87,219.28 L385.85,219.94 L386.83,220.60 L387.82,221.25 L388.80,221.91" stroke="#e2a640" stroke-width="1.3" fill="none"/>
<path d="M241.40,192.43 L242.38,192.43 L243.37,192.43 L244.35,192.43 L245.33,192.43 L246.31,192.43 L247.30,192.43 L248.28,192.43 L249.26,192.43 L250.24,192.43 L251.23,192.43 L252.21,192.43 L253.19,192.43 L254.17,192.43 L255.16,192.43 L256.14,192.43 L257.12,192.43 L258.11,192.43 L259.09,192.43 L260.07,192.43 L261.05,192.43 L262.04,192.43 L263.02,192.43 L264.00,192.43 L264.98,192.43 L265.97,192.43 L266.95,192.43 L267.93,192.44 L268.91,192.44 L269.90,192.44 L270.88,192.44 L271.86,192.44 L272.85,192.44 L273.83,192.45 L274.81,192.45 L275.79,192.45 L276.78,192.45 L277.76,192.46 L278.74,192.46 L279.72,192.47 L280.71,192.47 L281.69,192.48 L282.67,192.48 L283.65,192.49 L284.64,192.50 L285.62,192.50 L286.60,192.51 L287.59,192.53 L288.57,192.54 L289.55,192.55 L290.53,192.57 L291.52,192.58 L292.50,192.60 L293.48,192.62 L294.46,192.65 L295.45,192.67 L296.43,192.70 L297.41,192.73 L298.39,192.77 L299.38,192.81 L300.36,192.86 L301.34,192.91 L302.33,192.97 L303.31,193.03 L304.29,193.10 L305.27,193.18 L306.26,193.27 L307.24,193.37 L308.22,193.49 L309.20,193.61 L310.19,193.75 L311.17,193.91 L312.15,194.08 L313.13,194.27 L314.12,194.49 L315.10,194.73 L316.08,194.99 L317.07,195.29 L318.05,195.62 L319.03,195.99 L320.01,196.39 L321.00,196.84 L321.98,197.33 L322.96,197.88 L323.94,198.48 L324.93,199.15 L325.91,199.88 L326.89,200.68 L327.87,201.55 L328.86,202.51 L329.84,203.54 L330.82,204.67 L331.81,205.89 L332.79,207.20 L333.77,208.61 L334.75,210.12 L335.74,211.73 L336.72,213.43 L337.70,215.22 L338.68,217.11 L339.67,219.08 L340.65,221.12 L341.63,223.23 L342.61,225.40 L343.60,227.61 L344.58,229.84 L345.56,232.10 L346.55,234.35 L347.53,236.60 L348.51,238.82 L349.49,240.99 L350.48,243.12 L351.46,245.18 L352.44,247.17 L353.42,249.08 L354.41,250.89 L355.39,252.62 L356.37,254.25 L357.35,255.79 L358.34,257.22 L359.32,258.56 L360.30,259.80 L361.29,260.95 L362.27,262.01 L363.25,262.99 L364.23,263.88 L365.22,264.70 L366.20,265.44 L367.18,266.12 L368.16,266.74 L369.15,267.30 L370.13,267.81 L371.11,268.27 L372.09,268.69 L373.08,269.06 L374.06,269.40 L375.04,269.71 L376.03,269.98 L377.01,270.23 L377.99,270.45 L378.97,270.65 L379.96,270.82 L380.94,270.98 L381.92,271.13 L382.90,271.26 L383.89,271.37 L384.87,271.47 L385.85,271.57 L386.83,271.65 L387.82,271.72 L388.80,271.79" stroke="#74ac58" stroke-width="1.3" fill="none"/>
<path d="M241.40,204.63 L242.38,204.63 L243.37,204.63 L244.35,204.63 L245.33,204.63 L246.31,204.63 L247.30,204.63 L248.28,204.63 L249.26,204.63 L250.24,204.63 L251.23,204.63 L252.21,204.63 L253.19,204.63 L254.17,204.63 L255.16,204.63 L256.14,204.63 L257.12,204.63 L258.11,204.63 L259.09,204.63 L260.07,204.63 L261.05,204.63 L262.04,204.63 L263.02,204.63 L264.00,204.63 L264.98,204.63 L265.97,204.63 L266.95,204.63 L267.93,204.63 L268.91,204.63 L269.90,204.63 L270.88,204.63 L271.86,204.63 L272.85,204.63 L273.83,204.63 L274.81,204.63 L275.79,204.63 L276.78,204.63 L277.76,204.63 L278.74,204.63 L279.72,204.63 L280.71,204.63 L281.69,204.63 L282.67,204.63 L283.65,204.63 L284.64,204.64 L285.62,204.64 L286.60,204.64 L287.59,204.64 L288.57,204.64 L289.55,204.64 L290.53,204.64 L291.52,204.64 L292.50,204.64 L293.48,204.65 L294.46,204.65 L295.45,204.65 L296.43,204.65 L297.41,204.66 L298.39,204.66 L299.38,204.66 L300.36,204.67 L301.34,204.67 L302.33,204.68 L303.31,204.68 L304.29,204.69 L305.27,204.70 L306.26,204.71 L307.24,204.72 L308.22,204.73 L309.20,204.74 L310.19,204.75 L311.17,204.77 L312.15,204.79 L313.13,204.81 L314.12,204.83 L315.10,204.86 L316.08,204.89 L317.07,204.92 L318.05,204.96 L319.03,205.00 L320.01,205.05 L321.00,205.10 L321.98,205.16 L322.96,205.23 L323.94,205.30 L324.93,205.39 L325.91,205.49 L326.89,205.60 L327.87,205.72 L328.86,205.86 L329.84,206.01 L330.82,206.19 L331.81,206.38 L332.79,206.60 L333.77,206.84 L334.75,207.12 L335.74,207.42 L336.72,207.76 L337.70,208.14 L338.68,208.56 L339.67,209.03 L340.65,209.54 L341.63,210.11 L342.61,210.74 L343.60,211.43 L344.58,212.18 L345.56,213.00 L346.55,213.89 L347.53,214.85 L348.51,215.89 L349.49,217.00 L350.48,218.19 L351.46,219.44 L352.44,220.77 L353.42,222.15 L354.41,223.60 L355.39,225.09 L356.37,226.62 L357.35,228.17 L358.34,229.75 L359.32,231.33 L360.30,232.91 L361.29,234.47 L362.27,236.00 L363.25,237.50 L364.23,238.94 L365.22,240.33 L366.20,241.66 L367.18,242.93 L368.16,244.12 L369.15,245.24 L370.13,246.28 L371.11,247.25 L372.09,248.15 L373.08,248.98 L374.06,249.73 L375.04,250.43 L376.03,251.06 L377.01,251.63 L377.99,252.15 L378.97,252.63 L379.96,253.05 L380.94,253.43 L381.92,253.77 L382.90,254.08 L383.89,254.36 L384.87,254.61 L385.85,254.83 L386.83,255.02 L387.82,255.20 L388.80,255.35" stroke="#303e72" stroke-width="1.3" fill="none"/>
<path d="M241.40,184.78 L242.38,184.78 L243.37,184.78 L244.35,184.78 L245.33,184.78 L246.31,184.78 L247.30,184.78 L248.28,184.78 L249.26,184.78 L250.24,184.78 L251.23,184.78 L252.21,184.78 L253.19,184.78 L254.17,184.78 L255.16,184.78 L256.14,184.79 L257.12,184.79 L258.11,184.79 L259.09,184.79 L260.07,184.79 L261.05,184.79 L262.04,184.79 L263.02,184.79 L264.00,184.80 L264.98,184.80 L265.97,184.80 L266.95,184.80 L267.93,184.80 L268.91,184.81 L269.90,184.81 L270.88,184.81 L271.86,184.81 L272.85,184.82 L273.83,184.82 L274.81,184.83 L275.79,184.83 L276.78,184.84 L277.76,184.84 L278.74,184.85 L279.72,184.85 L280.71,184.86 L281.69,184.87 L282.67,184.88 L283.65,184.89 L284.64,184.90 L285.62,184.91 L286.60,184.92 L287.59,184.93 L288.57,184.95 L289.55,184.96 L290.53,184.98 L291.52,185.00 L292.50,185.02 L293.48,185.04 L294.46,185.07 L295.45,185.09 L296.43,185.12 L297.41,185.15 L298.39,185.19 L299.38,185.22 L300.36,185.26 L301.34,185.31 L302.33,185.36 L303.31,185.41 L304.29,185.47 L305.27,185.53 L306.26,185.60 L307.24,185.67 L308.22,185.75 L309.20,185.84 L310.19,185.94 L311.17,186.04 L312.15,186.16 L313.13,186.28 L314.12,186.42 L315.10,186.56 L316.08,186.72 L317.07,186.90 L318.05,187.09 L319.03,187.29 L320.01,187.51 L321.00,187.76 L321.98,188.02 L322.96,188.30 L323.94,188.61 L324.93,188.95 L325.91,189.31 L326.89,189.70 L327.87,190.12 L328.86,190.58 L329.84,191.07 L330.82,191.60 L331.81,192.18 L332.79,192.79 L333.77,193.46 L334.75,194.17 L335.74,194.93 L336.72,195.74 L337.70,196.61 L338.68,197.54 L339.67,198.53 L340.65,199.57 L341.63,200.69 L342.61,201.86 L343.60,203.11 L344.58,204.41 L345.56,205.79 L346.55,207.23 L347.53,208.73 L348.51,210.30 L349.49,211.92 L350.48,213.61 L351.46,215.34 L352.44,217.13 L353.42,218.96 L354.41,220.83 L355.39,222.72 L356.37,224.65 L357.35,226.59 L358.34,228.55 L359.32,230.51 L360.30,232.46 L361.29,234.41 L362.27,236.34 L363.25,238.24 L364.23,240.11 L365.22,241.94 L366.20,243.73 L367.18,245.47 L368.16,247.15 L369.15,248.78 L370.13,250.35 L371.11,251.86 L372.09,253.30 L373.08,254.68 L374.06,255.99 L375.04,257.24 L376.03,258.42 L377.01,259.54 L377.99,260.59 L378.97,261.58 L379.96,262.51 L380.94,263.39 L381.92,264.20 L382.90,264.97 L383.89,265.68 L384.87,266.35 L385.85,266.96 L386.83,267.54 L387.82,268.07 L388.80,268.57" stroke="#262650" stroke-width="1.3" fill="none"/>
<path d="M241.40,204.60 L242.38,204.60 L243.37,204.60 L244.35,204.60 L245.33,204.60 L246.31,204.60 L247.30,204.60 L248.28,204.60 L249.26,204.60 L250.24,204.60 L251.23,204.60 L252.21,204.60 L253.19,204.60 L254.17,204.60 L255.16,204.60 L256.14,204.61 L257.12,204.61 L258.11,204.61 L259.09,204.61 L260.07,204.61 L261.05,204.61 L262.04,204.62 L263.02,204.62 L264.00,204.62 L264.98,204.62 L265.97,204.63 L266.95,204.63 L267.93,204.64 L268.91,204.64 L269.90,204.65 L270.88,204.65 L271.86,204.66 L272.85,204.67 L273.83,204.68 L274.81,204.68 L275.79,204.69 L276.78,204.71 L277.76,204.72 L278.74,204.73 L279.72,204.75 L280.71,204.77 L281.69,204.78 L282.67,204.81 L283.65,204.83 L284.64,204.86 L285.62,204.89 L286.60,204.92 L287.59,204.95 L288.57,204.99 L289.55,205.04 L290.53,205.09 L291.52,205.14 L292.50,205.20 L293.48,205.27 L294.46,205.35 L295.45,205.43 L296.43,205.52 L297.41,205.63 L298.39,205.74 L299.38,205.87 L300.36,206.01 L301.34,206.16 L302.33,206.33 L303.31,206.52 L304.29,206.73 L305.27,206.96 L306.26,207.21 L307.24,207.50 L308.22,207.80 L309.20,208.15 L310.19,208.52 L311.17,208.93 L312.15,209.38 L313.13,209.88 L314.12,210.42 L315.10,211.01 L316.08,211.65 L317.07,212.35 L318.05,213.11 L319.03,213.93 L320.01,214.82 L321.00,215.77 L321.98,216.80 L322.96,217.89 L323.94,219.06 L324.93,220.30 L325.91,221.62 L326.89,223.00 L327.87,224.46 L328.86,225.97 L329.84,227.55 L330.82,229.18 L331.81,230.86 L332.79,232.58 L333.77,234.33 L334.75,236.10 L335.74,237.89 L336.72,239.67 L337.70,241.45 L338.68,243.21 L339.67,244.95 L340.65,246.64 L341.63,248.30 L342.61,249.90 L343.60,251.44 L344.58,252.92 L345.56,254.34 L346.55,255.68 L347.53,256.96 L348.51,258.16 L349.49,259.28 L350.48,260.34 L351.46,261.32 L352.44,262.24 L353.42,263.09 L354.41,263.87 L355.39,264.60 L356.37,265.26 L357.35,265.88 L358.34,266.44 L359.32,266.95 L360.30,267.42 L361.29,267.85 L362.27,268.24 L363.25,268.59 L364.23,268.92 L365.22,269.21 L366.20,269.47 L367.18,269.72 L368.16,269.93 L369.15,270.13 L370.13,270.31 L371.11,270.47 L372.09,270.62 L373.08,270.75 L374.06,270.87 L375.04,270.97 L376.03,271.07 L377.01,271.16 L377.99,271.24 L378.97,271.31 L379.96,271.37 L380.94,271.43 L381.92,271.48 L382.90,271.53 L383.89,271.57 L384.87,271.61 L385.85,271.64 L386.83,271.67 L387.82,271.70 L388.80,271.72" stroke="#a01848" stroke-width="1.3" fill="none"/>
<path d="M241.40,186.72 L242.38,186.72 L243.37,186.72 L244.35,186.73 L245.33,186.73 L246.31,186.73 L247.30,186.73 L248.28,186.73 L249.26,186.73 L250.24,186.73 L251.23,186.74 L252.21,186.74 L253.19,186.74 L254.17,186.74 L255.16,186.75 L256.14,186.75 L257.12,186.75 L258.11,186.76 L259.09,186.76 L260.07,186.77 L261.05,186.78 L262.04,186.78 L263.02,186.79 L264.00,186.80 L264.98,186.81 L265.97,186.82 L266.95,186.83 L267.93,186.84 L268.91,186.85 L269.90,186.87 L270.88,186.89 L271.86,186.91 L272.85,186.93 L273.83,186.95 L274.81,186.98 L275.79,187.01 L276.78,187.04 L277.76,187.07 L278.74,187.11 L279.72,187.16 L280.71,187.20 L281.69,187.26 L282.67,187.32 L283.65,187.38 L284.64,187.46 L285.62,187.54 L286.60,187.63 L287.59,187.73 L288.57,187.84 L289.55,187.97 L290.53,188.10 L291.52,188.25 L292.50,188.42 L293.48,188.60 L294.46,188.81 L295.45,189.03 L296.43,189.28 L297.41,189.56 L298.39,189.86 L299.38,190.20 L300.36,190.57 L301.34,190.97 L302.33,191.42 L303.31,191.91 L304.29,192.45 L305.27,193.04 L306.26,193.68 L307.24,194.39 L308.22,195.15 L309.20,195.99 L310.19,196.90 L311.17,197.88 L312.15,198.94 L313.13,200.09 L314.12,201.32 L315.10,202.64 L316.08,204.05 L317.07,205.55 L318.05,207.14 L319.03,208.83 L320.01,210.60 L321.00,212.46 L321.98,214.40 L322.96,216.41 L323.94,218.49 L324.93,220.63 L325.91,222.82 L326.89,225.04 L327.87,227.30 L328.86,229.56 L329.84,231.83 L330.82,234.09 L331.81,236.32 L332.79,238.52 L333.77,240.67 L334.75,242.77 L335.74,244.80 L336.72,246.76 L337.70,248.64 L338.68,250.44 L339.67,252.15 L340.65,253.76 L341.63,255.29 L342.61,256.73 L343.60,258.07 L344.58,259.33 L345.56,260.49 L346.55,261.58 L347.53,262.58 L348.51,263.51 L349.49,264.36 L350.48,265.15 L351.46,265.87 L352.44,266.53 L353.42,267.13 L354.41,267.68 L355.39,268.19 L356.37,268.65 L357.35,269.06 L358.34,269.44 L359.32,269.78 L360.30,270.10 L361.29,270.38 L362.27,270.64 L363.25,270.87 L364.23,271.08 L365.22,271.27 L366.20,271.44 L367.18,271.60 L368.16,271.74 L369.15,271.86 L370.13,271.98 L371.11,272.08 L372.09,272.17 L373.08,272.26 L374.06,272.33 L375.04,272.40 L376.03,272.46 L377.01,272.52 L377.99,272.57 L378.97,272.61 L379.96,272.65 L380.94,272.69 L381.92,272.72 L382.90,272.75 L383.89,272.78 L384.87,272.80 L385.85,272.82 L386.83,272.84 L387.82,272.86 L388.80,272.88" stroke="#24405e" stroke-width="1.3" fill="none"/>
<line x1="249.30" y1="219.90" x2="259.20" y2="219.90" stroke="#404050" stroke-width="1.2"/>
<text x="262.10" y="222.30" font-size="7" text-anchor="start" font-weight="normal" fill="#2a2a2a" stroke="#2a2a2a" stroke-width="0.1" textLength="15.1" lengthAdjust="spacingAndGlyphs">Pt #1</text>
<line x1="249.30" y1="229.06" x2="259.20" y2="229.06" stroke="#d8c890" stroke-width="1.2"/>
<text x="262.10" y="231.46" font-size="7" text-anchor="start" font-weight="normal" fill="#2a2a2a" stroke="#2a2a2a" stroke-width="0.1" textLength="15.1" lengthAdjust="spacingAndGlyphs">Pt #2</text>
<line x1="249.30" y1="238.22" x2="259.20" y2="238.22" stroke="#607090" stroke-width="1.2"/>
<text x="262.10" y="240.62" font-size="7" text-anchor="start" font-weight="normal" fill="#2a2a2a" stroke="#2a2a2a" stroke-width="0.1" textLength="15.1" lengthAdjust="spacingAndGlyphs">Pt #3</text>
<line x1="249.30" y1="247.38" x2="259.20" y2="247.38" stroke="#7878a8" stroke-width="1.2"/>
<text x="262.10" y="249.78" font-size="7" text-anchor="start" font-weight="normal" fill="#2a2a2a" stroke="#2a2a2a" stroke-width="0.1" textLength="15.1" lengthAdjust="spacingAndGlyphs">Pt #4</text>
<line x1="249.30" y1="256.54" x2="259.20" y2="256.54" stroke="#90c090" stroke-width="1.2"/>
<text x="262.10" y="258.94" font-size="7" text-anchor="start" font-weight="normal" fill="#2a2a2a" stroke="#2a2a2a" stroke-width="0.1" textLength="15.1" lengthAdjust="spacingAndGlyphs">Pt #5</text>
<line x1="249.30" y1="265.70" x2="259.20" y2="265.70" stroke="#906070" stroke-width="1.2"/>
<text x="262.10" y="268.10" font-size="7" text-anchor="start" font-weight="normal" fill="#2a2a2a" stroke="#2a2a2a" stroke-width="0.1" textLength="15.1" lengthAdjust="spacingAndGlyphs">Pt #6</text>
<line x1="430.50" y1="183.50" x2="430.50" y2="228.10" stroke="#1a1a1a" stroke-width="1.7"/>
<line x1="428.00" y1="228.10" x2="433.00" y2="228.10" stroke="#1a1a1a" stroke-width="1.7"/>
<line x1="427.10" y1="186.10" x2="430.50" y2="186.10" stroke="#1a1a1a" stroke-width="1.5"/>
<text x="424.00" y="188.40" font-size="6.5" text-anchor="end" font-weight="normal" fill="#2a2a2a" stroke="#2a2a2a" stroke-width="0.1">3</text>
<line x1="427.10" y1="207.00" x2="430.50" y2="207.00" stroke="#1a1a1a" stroke-width="1.5"/>
<text x="424.00" y="209.30" font-size="6.5" text-anchor="end" font-weight="normal" fill="#2a2a2a" stroke="#2a2a2a" stroke-width="0.1">2</text>
<line x1="427.10" y1="228.10" x2="430.50" y2="228.10" stroke="#1a1a1a" stroke-width="1.5"/>
<text x="424.00" y="230.40" font-size="6.5" text-anchor="end" font-weight="normal" fill="#2a2a2a" stroke="#2a2a2a" stroke-width="0.1">1</text>
<line x1="430.50" y1="235.20" x2="430.50" y2="277.70" stroke="#1a1a1a" stroke-width="1.7"/>
<line x1="427.80" y1="235.20" x2="432.80" y2="235.20" stroke="#1a1a1a" stroke-width="1.7"/>
<line x1="427.10" y1="235.20" x2="430.50" y2="235.20" stroke="#1a1a1a" stroke-width="1.5"/>
<text x="423.60" y="238.20" font-size="6.5" text-anchor="end" font-weight="normal" fill="#2a2a2a" stroke="#2a2a2a" stroke-width="0.1">1.0</text>
<line x1="427.10" y1="256.20" x2="430.50" y2="256.20" stroke="#1a1a1a" stroke-width="1.5"/>
<text x="423.60" y="259.20" font-size="6.5" text-anchor="end" font-weight="normal" fill="#2a2a2a" stroke="#2a2a2a" stroke-width="0.1">0.5</text>
<line x1="427.10" y1="277.10" x2="430.50" y2="277.10" stroke="#1a1a1a" stroke-width="1.5"/>
<text x="423.60" y="280.10" font-size="6.5" text-anchor="end" font-weight="normal" fill="#2a2a2a" stroke="#2a2a2a" stroke-width="0.1">0.0</text>
<line x1="429.90" y1="277.10" x2="496.80" y2="277.10" stroke="#1a1a1a" stroke-width="1.7"/>
<rect x="433.20" y="268.00" width="5.80" height="9.10" fill="#2e4a78"/>
<line x1="436.10" y1="277.10" x2="436.10" y2="280.00" stroke="#1a1a1a" stroke-width="1.0"/>
<text x="436.00" y="288.90" font-size="6.3" text-anchor="middle" font-weight="normal" fill="#2a2a2a" stroke="#2a2a2a" stroke-width="0.1">#1</text>
<rect x="443.90" y="188.10" width="6.10" height="39.70" fill="#b0123a"/>
<rect x="443.90" y="235.80" width="6.10" height="41.30" fill="#b0123a"/>
<line x1="446.95" y1="277.10" x2="446.95" y2="280.00" stroke="#1a1a1a" stroke-width="1.0"/>
<text x="445.30" y="288.90" font-size="6.3" text-anchor="middle" font-weight="normal" fill="#2a2a2a" stroke="#2a2a2a" stroke-width="0.1">#2</text>
<rect x="455.30" y="247.30" width="6.10" height="29.80" fill="#6aaa48"/>
<line x1="458.35" y1="277.10" x2="458.35" y2="280.00" stroke="#1a1a1a" stroke-width="1.0"/>
<text x="458.80" y="288.90" font-size="6.3" text-anchor="middle" font-weight="normal" fill="#2a2a2a" stroke="#2a2a2a" stroke-width="0.1">#3</text>
<rect x="466.50" y="276.20" width="5.80" height="0.90" fill="#333"/>
<line x1="469.40" y1="277.10" x2="469.40" y2="280.00" stroke="#1a1a1a" stroke-width="1.0"/>
<text x="468.00" y="288.90" font-size="6.3" text-anchor="middle" font-weight="normal" fill="#2a2a2a" stroke="#2a2a2a" stroke-width="0.1">#4</text>
<rect x="477.50" y="273.60" width="5.80" height="3.50" fill="#e8a040"/>
<line x1="480.40" y1="277.10" x2="480.40" y2="280.00" stroke="#1a1a1a" stroke-width="1.0"/>
<text x="481.20" y="288.90" font-size="6.3" text-anchor="middle" font-weight="normal" fill="#2a2a2a" stroke="#2a2a2a" stroke-width="0.1">#5</text>
<rect x="488.90" y="269.20" width="6.20" height="7.90" fill="#3a6a52"/>
<line x1="492.00" y1="277.10" x2="492.00" y2="280.00" stroke="#1a1a1a" stroke-width="1.0"/>
<text x="491.30" y="288.90" font-size="6.3" text-anchor="middle" font-weight="normal" fill="#2a2a2a" stroke="#2a2a2a" stroke-width="0.1">#6</text>
<text x="463.50" y="300.00" font-size="8.8" text-anchor="middle" font-weight="normal" fill="#2a2a2a" stroke="#2a2a2a" stroke-width="0.1" textLength="55" lengthAdjust="spacingAndGlyphs">MM patient cells</text>
<text transform="translate(411.00,230.10) rotate(-90)" font-size="8.8" text-anchor="middle" font-weight="normal" fill="#2a2a2a" stroke="#2a2a2a" stroke-width="0.1" textLength="35.6" lengthAdjust="spacingAndGlyphs">IC50 (μM)</text>
<text x="11.00" y="339.00" font-size="11.9" text-anchor="start" font-weight="bold" fill="#111" stroke="#111" stroke-width="0.3" textLength="6.9" lengthAdjust="spacingAndGlyphs">E</text>
<text x="107.30" y="340.70" font-size="8.5" text-anchor="middle" font-weight="bold" fill="#111" stroke="#111" stroke-width="0.3" textLength="40.1" lengthAdjust="spacingAndGlyphs">Patient #6</text>
<line x1="50.00" y1="346.00" x2="50.00" y2="423.80" stroke="#1a1a1a" stroke-width="1.7"/>
<line x1="46.80" y1="421.40" x2="50.00" y2="421.40" stroke="#1a1a1a" stroke-width="1.5"/>
<text x="43.70" y="423.60" font-size="6.2" text-anchor="end" font-weight="normal" fill="#2a2a2a" stroke="#2a2a2a" stroke-width="0.1">0</text>
<line x1="46.80" y1="414.74" x2="50.00" y2="414.74" stroke="#1a1a1a" stroke-width="1.5"/>
<text x="43.70" y="416.94" font-size="6.2" text-anchor="end" font-weight="normal" fill="#2a2a2a" stroke="#2a2a2a" stroke-width="0.1">10</text>
<line x1="46.80" y1="408.08" x2="50.00" y2="408.08" stroke="#1a1a1a" stroke-width="1.5"/>
<text x="43.70" y="410.28" font-size="6.2" text-anchor="end" font-weight="normal" fill="#2a2a2a" stroke="#2a2a2a" stroke-width="0.1">20</text>
<line x1="46.80" y1="401.42" x2="50.00" y2="401.42" stroke="#1a1a1a" stroke-width="1.5"/>
<text x="43.70" y="403.62" font-size="6.2" text-anchor="end" font-weight="normal" fill="#2a2a2a" stroke="#2a2a2a" stroke-width="0.1">30</text>
<line x1="46.80" y1="394.76" x2="50.00" y2="394.76" stroke="#1a1a1a" stroke-width="1.5"/>
<text x="43.70" y="396.96" font-size="6.2" text-anchor="end" font-weight="normal" fill="#2a2a2a" stroke="#2a2a2a" stroke-width="0.1">40</text>
<line x1="46.80" y1="388.10" x2="50.00" y2="388.10" stroke="#1a1a1a" stroke-width="1.5"/>
<text x="43.70" y="390.30" font-size="6.2" text-anchor="end" font-weight="normal" fill="#2a2a2a" stroke="#2a2a2a" stroke-width="0.1">50</text>
<line x1="46.80" y1="381.44" x2="50.00" y2="381.44" stroke="#1a1a1a" stroke-width="1.5"/>
<text x="43.70" y="383.64" font-size="6.2" text-anchor="end" font-weight="normal" fill="#2a2a2a" stroke="#2a2a2a" stroke-width="0.1">60</text>
<line x1="46.80" y1="374.78" x2="50.00" y2="374.78" stroke="#1a1a1a" stroke-width="1.5"/>
<text x="43.70" y="376.98" font-size="6.2" text-anchor="end" font-weight="normal" fill="#2a2a2a" stroke="#2a2a2a" stroke-width="0.1">70</text>
<line x1="46.80" y1="368.12" x2="50.00" y2="368.12" stroke="#1a1a1a" stroke-width="1.5"/>
<text x="43.70" y="370.32" font-size="6.2" text-anchor="end" font-weight="normal" fill="#2a2a2a" stroke="#2a2a2a" stroke-width="0.1">80</text>
<line x1="46.80" y1="361.46" x2="50.00" y2="361.46" stroke="#1a1a1a" stroke-width="1.5"/>
<text x="43.70" y="363.66" font-size="6.2" text-anchor="end" font-weight="normal" fill="#2a2a2a" stroke="#2a2a2a" stroke-width="0.1">90</text>
<line x1="46.80" y1="354.80" x2="50.00" y2="354.80" stroke="#1a1a1a" stroke-width="1.5"/>
<text x="43.70" y="357.00" font-size="6.2" text-anchor="end" font-weight="normal" fill="#2a2a2a" stroke="#2a2a2a" stroke-width="0.1">100</text>
<line x1="46.80" y1="348.14" x2="50.00" y2="348.14" stroke="#1a1a1a" stroke-width="1.5"/>
<text x="43.70" y="350.34" font-size="6.2" text-anchor="end" font-weight="normal" fill="#2a2a2a" stroke="#2a2a2a" stroke-width="0.1">110</text>
<line x1="49.40" y1="423.20" x2="164.50" y2="423.20" stroke="#1a1a1a" stroke-width="1.7"/>
<line x1="51.90" y1="423.20" x2="51.90" y2="426.20" stroke="#1a1a1a" stroke-width="1.5"/>
<line x1="71.80" y1="423.20" x2="71.80" y2="426.20" stroke="#1a1a1a" stroke-width="1.5"/>
<line x1="91.70" y1="423.20" x2="91.70" y2="426.20" stroke="#1a1a1a" stroke-width="1.5"/>
<line x1="111.60" y1="423.20" x2="111.60" y2="426.20" stroke="#1a1a1a" stroke-width="1.5"/>
<line x1="131.50" y1="423.20" x2="131.50" y2="426.20" stroke="#1a1a1a" stroke-width="1.5"/>
<line x1="151.40" y1="423.20" x2="151.40" y2="426.20" stroke="#1a1a1a" stroke-width="1.5"/>
<text x="51.60" y="434.90" font-size="6.5" text-anchor="middle" font-weight="normal" fill="#2a2a2a" stroke="#2a2a2a" stroke-width="0.1">0.0001</text>
<text x="71.50" y="434.90" font-size="6.5" text-anchor="middle" font-weight="normal" fill="#2a2a2a" stroke="#2a2a2a" stroke-width="0.1">0.001</text>
<text x="89.40" y="434.90" font-size="6.5" text-anchor="middle" font-weight="normal" fill="#2a2a2a" stroke="#2a2a2a" stroke-width="0.1">0.01</text>
<text x="103.10" y="434.90" font-size="6.5" text-anchor="middle" font-weight="normal" fill="#2a2a2a" stroke="#2a2a2a" stroke-width="0.1">0.1</text>
<text x="118.20" y="434.90" font-size="6.5" text-anchor="middle" font-weight="normal" fill="#2a2a2a" stroke="#2a2a2a" stroke-width="0.1">1</text>
<text x="133.00" y="434.90" font-size="6.5" text-anchor="middle" font-weight="normal" fill="#2a2a2a" stroke="#2a2a2a" stroke-width="0.1">10</text>
<text x="151.80" y="434.90" font-size="6.5" text-anchor="middle" font-weight="normal" fill="#2a2a2a" stroke="#2a2a2a" stroke-width="0.1">100</text>
<text x="105.70" y="446.90" font-size="8.8" text-anchor="middle" font-weight="normal" fill="#2a2a2a" stroke="#2a2a2a" stroke-width="0.1" textLength="116.4" lengthAdjust="spacingAndGlyphs">KPT9274 drug concentration (μM)</text>
<text transform="translate(28.60,385.50) rotate(-90)" font-size="8.8" text-anchor="middle" font-weight="normal" fill="#2a2a2a" stroke="#2a2a2a" stroke-width="0.1" textLength="66.7" lengthAdjust="spacingAndGlyphs">% of survival index</text>
<path d="M50.30,354.94 L51.06,354.95 L51.82,354.97 L52.57,354.98 L53.33,354.99 L54.09,355.01 L54.85,355.02 L55.61,355.04 L56.36,355.05 L57.12,355.07 L57.88,355.09 L58.64,355.11 L59.40,355.12 L60.15,355.14 L60.91,355.16 L61.67,355.18 L62.43,355.21 L63.19,355.23 L63.94,355.25 L64.70,355.28 L65.46,355.30 L66.22,355.33 L66.98,355.35 L67.73,355.38 L68.49,355.41 L69.25,355.44 L70.01,355.47 L70.77,355.50 L71.52,355.53 L72.28,355.57 L73.04,355.60 L73.80,355.64 L74.56,355.68 L75.31,355.72 L76.07,355.76 L76.83,355.80 L77.59,355.84 L78.35,355.89 L79.10,355.93 L79.86,355.98 L80.62,356.03 L81.38,356.08 L82.14,356.14 L82.89,356.19 L83.65,356.25 L84.41,356.31 L85.17,356.37 L85.93,356.43 L86.68,356.50 L87.44,356.57 L88.20,356.64 L88.96,356.71 L89.72,356.79 L90.47,356.86 L91.23,356.95 L91.99,357.03 L92.75,357.11 L93.51,357.20 L94.26,357.30 L95.02,357.39 L95.78,357.49 L96.54,357.59 L97.30,357.70 L98.05,357.80 L98.81,357.92 L99.57,358.03 L100.33,358.15 L101.09,358.28 L101.84,358.40 L102.60,358.53 L103.36,358.67 L104.12,358.81 L104.88,358.95 L105.63,359.10 L106.39,359.26 L107.15,359.41 L107.91,359.58 L108.67,359.75 L109.42,359.92 L110.18,360.10 L110.94,360.28 L111.70,360.47 L112.46,360.67 L113.21,360.87 L113.97,361.07 L114.73,361.29 L115.49,361.51 L116.25,361.73 L117.00,361.96 L117.76,362.20 L118.52,362.44 L119.28,362.69 L120.04,362.95 L120.79,363.21 L121.55,363.48 L122.31,363.76 L123.07,364.05 L123.83,364.34 L124.58,364.64 L125.34,364.94 L126.10,365.26 L126.86,365.58 L127.62,365.91 L128.37,366.24 L129.13,366.59 L129.89,366.94 L130.65,367.29 L131.41,367.66 L132.16,368.03 L132.92,368.41 L133.68,368.80 L134.44,369.19 L135.20,369.60 L135.95,370.01 L136.71,370.42 L137.47,370.85 L138.23,371.28 L138.99,371.71 L139.74,372.16 L140.50,372.61 L141.26,373.07 L142.02,373.53 L142.78,374.00 L143.53,374.47 L144.29,374.95 L145.05,375.44 L145.81,375.93 L146.57,376.42 L147.32,376.92 L148.08,377.43 L148.84,377.94 L149.60,378.45 L150.36,378.96 L151.11,379.48 L151.87,380.01 L152.63,380.53 L153.39,381.06 L154.15,381.58 L154.90,382.11 L155.66,382.65 L156.42,383.18 L157.18,383.71 L157.94,384.24 L158.69,384.77 L159.45,385.30 L160.21,385.83 L160.97,386.36 L161.73,386.89 L162.48,387.42 L163.24,387.94 L164.00,388.46" stroke="#6aa848" stroke-width="1.5" fill="none" stroke-opacity="1"/>
<path d="M50.30,354.85 L51.06,354.85 L51.82,354.85 L52.57,354.85 L53.33,354.85 L54.09,354.85 L54.85,354.85 L55.61,354.85 L56.36,354.85 L57.12,354.85 L57.88,354.85 L58.64,354.85 L59.40,354.85 L60.15,354.85 L60.91,354.85 L61.67,354.85 L62.43,354.85 L63.19,354.86 L63.94,354.86 L64.70,354.86 L65.46,354.86 L66.22,354.86 L66.98,354.86 L67.73,354.87 L68.49,354.87 L69.25,354.87 L70.01,354.88 L70.77,354.88 L71.52,354.89 L72.28,354.89 L73.04,354.90 L73.80,354.91 L74.56,354.91 L75.31,354.92 L76.07,354.93 L76.83,354.95 L77.59,354.96 L78.35,354.98 L79.10,354.99 L79.86,355.02 L80.62,355.04 L81.38,355.06 L82.14,355.10 L82.89,355.13 L83.65,355.17 L84.41,355.21 L85.17,355.26 L85.93,355.32 L86.68,355.38 L87.44,355.46 L88.20,355.54 L88.96,355.64 L89.72,355.74 L90.47,355.86 L91.23,356.00 L91.99,356.16 L92.75,356.33 L93.51,356.53 L94.26,356.76 L95.02,357.01 L95.78,357.30 L96.54,357.62 L97.30,357.99 L98.05,358.40 L98.81,358.86 L99.57,359.37 L100.33,359.94 L101.09,360.58 L101.84,361.29 L102.60,362.08 L103.36,362.95 L104.12,363.91 L104.88,364.97 L105.63,366.12 L106.39,367.37 L107.15,368.73 L107.91,370.19 L108.67,371.75 L109.42,373.41 L110.18,375.17 L110.94,377.02 L111.70,378.94 L112.46,380.93 L113.21,382.97 L113.97,385.05 L114.73,387.14 L115.49,389.24 L116.25,391.32 L117.00,393.38 L117.76,395.38 L118.52,397.33 L119.28,399.20 L120.04,400.98 L120.79,402.67 L121.55,404.26 L122.31,405.76 L123.07,407.14 L123.83,408.43 L124.58,409.61 L125.34,410.69 L126.10,411.68 L126.86,412.57 L127.62,413.39 L128.37,414.12 L129.13,414.78 L129.89,415.37 L130.65,415.90 L131.41,416.38 L132.16,416.80 L132.92,417.18 L133.68,417.51 L134.44,417.81 L135.20,418.07 L135.95,418.31 L136.71,418.51 L137.47,418.70 L138.23,418.86 L138.99,419.00 L139.74,419.13 L140.50,419.24 L141.26,419.34 L142.02,419.42 L142.78,419.50 L143.53,419.57 L144.29,419.63 L145.05,419.68 L145.81,419.72 L146.57,419.76 L147.32,419.80 L148.08,419.83 L148.84,419.86 L149.60,419.88 L150.36,419.90 L151.11,419.92 L151.87,419.94 L152.63,419.95 L153.39,419.97 L154.15,419.98 L154.90,419.99 L155.66,420.00 L156.42,420.00 L157.18,420.01 L157.94,420.02 L158.69,420.02 L159.45,420.03 L160.21,420.03 L160.97,420.03 L161.73,420.04 L162.48,420.04 L163.24,420.04 L164.00,420.04" stroke="#a0102e" stroke-width="1.5" fill="none" stroke-opacity="1"/>
<path d="M50.3,354.9 L95,355.6" stroke="#6aa848" stroke-width="1.2" stroke-opacity="0.45" fill="none"/>
<circle cx="57.2" cy="352.4" r="1.4" fill="#7aa860"/>
<circle cx="72.5" cy="359.3" r="1.4" fill="#7aa860"/>
<circle cx="88.1" cy="354.8" r="1.4" fill="#7aa860"/>
<circle cx="118.9" cy="360.5" r="1.4" fill="#7aa860"/>
<circle cx="134.6" cy="366.9" r="1.4" fill="#7aa860"/>
<circle cx="150.0" cy="380.5" r="1.4" fill="#7aa860"/>
<circle cx="57.2" cy="366.2" r="1.6" fill="#6a0a24"/>
<circle cx="72.5" cy="369.3" r="1.6" fill="#6a0a24"/>
<circle cx="88.1" cy="347.5" r="1.6" fill="#6a0a24"/>
<circle cx="103.2" cy="364.5" r="1.6" fill="#6a0a24"/>
<circle cx="119.2" cy="399.0" r="1.6" fill="#6a0a24"/>
<circle cx="134.2" cy="418.1" r="1.6" fill="#6a0a24"/>
<circle cx="150.4" cy="419.8" r="1.6" fill="#6a0a24"/>
<ellipse cx="144.5" cy="349.7" rx="3.3" ry="2.0" fill="#6aaa40"/>
<ellipse cx="144.5" cy="357.2" rx="3.3" ry="2.0" fill="#a0102e"/>
<text x="150.90" y="352.00" font-size="6.3" text-anchor="start" font-weight="normal" fill="#2a2a50" stroke="#2a2a50" stroke-width="0.1" textLength="35.9" lengthAdjust="spacingAndGlyphs">Normal Cells</text>
<text x="150.90" y="359.50" font-size="6.3" text-anchor="start" font-weight="normal" fill="#203838" stroke="#203838" stroke-width="0.1" textLength="42" lengthAdjust="spacingAndGlyphs">Myeloma Cells</text>
<line x1="231.40" y1="338.50" x2="231.40" y2="423.40" stroke="#1a1a1a" stroke-width="1.7"/>
<line x1="228.00" y1="422.80" x2="231.40" y2="422.80" stroke="#1a1a1a" stroke-width="1.5"/>
<text x="224.90" y="425.10" font-size="6.5" text-anchor="end" font-weight="normal" fill="#2a2a2a" stroke="#2a2a2a" stroke-width="0.1">0</text>
<line x1="228.00" y1="402.07" x2="231.40" y2="402.07" stroke="#1a1a1a" stroke-width="1.5"/>
<text x="224.90" y="404.38" font-size="6.5" text-anchor="end" font-weight="normal" fill="#2a2a2a" stroke="#2a2a2a" stroke-width="0.1">1000</text>
<line x1="228.00" y1="381.35" x2="231.40" y2="381.35" stroke="#1a1a1a" stroke-width="1.5"/>
<text x="224.90" y="383.65" font-size="6.5" text-anchor="end" font-weight="normal" fill="#2a2a2a" stroke="#2a2a2a" stroke-width="0.1">2000</text>
<line x1="228.00" y1="360.62" x2="231.40" y2="360.62" stroke="#1a1a1a" stroke-width="1.5"/>
<text x="224.90" y="362.93" font-size="6.5" text-anchor="end" font-weight="normal" fill="#2a2a2a" stroke="#2a2a2a" stroke-width="0.1">3000</text>
<line x1="228.00" y1="339.90" x2="231.40" y2="339.90" stroke="#1a1a1a" stroke-width="1.5"/>
<text x="224.90" y="342.20" font-size="6.5" text-anchor="end" font-weight="normal" fill="#2a2a2a" stroke="#2a2a2a" stroke-width="0.1">4000</text>
<line x1="230.80" y1="422.80" x2="336.60" y2="422.80" stroke="#1a1a1a" stroke-width="1.7"/>
<line x1="261.60" y1="422.80" x2="261.60" y2="425.60" stroke="#1a1a1a" stroke-width="1.5"/>
<text x="261.60" y="434.80" font-size="6.5" text-anchor="middle" font-weight="normal" fill="#2a2a2a" stroke="#2a2a2a" stroke-width="0.1">Normal Cells</text>
<line x1="306.90" y1="422.80" x2="306.90" y2="425.60" stroke="#1a1a1a" stroke-width="1.5"/>
<text x="306.90" y="434.80" font-size="6.5" text-anchor="middle" font-weight="normal" fill="#2a2a2a" stroke="#2a2a2a" stroke-width="0.1">Myeloma Cells</text>
<text transform="translate(206.30,380.00) rotate(-90)" font-size="8.6" text-anchor="middle" font-weight="normal" fill="#2a2a2a" stroke="#2a2a2a" stroke-width="0.1" textLength="14.1" lengthAdjust="spacingAndGlyphs">AUC</text>
<line x1="261.60" y1="384.46" x2="306.90" y2="412.02" stroke="#1f4a70" stroke-width="1.5"/>
<line x1="261.60" y1="389.64" x2="306.90" y2="414.51" stroke="#a8103e" stroke-width="1.5"/>
<line x1="261.60" y1="404.15" x2="306.90" y2="419.48" stroke="#7ab050" stroke-width="1.5"/>
<line x1="261.60" y1="350.26" x2="306.90" y2="398.97" stroke="#e0a23a" stroke-width="1.5"/>
<line x1="261.60" y1="404.15" x2="306.90" y2="414.10" stroke="#3a2a52" stroke-width="1.5"/>
<circle cx="261.6" cy="384.46" r="1.8" fill="#1f4a70"/>
<circle cx="306.9" cy="412.02" r="1.8" fill="#1f4a70"/>
<circle cx="261.6" cy="389.64" r="1.8" fill="#a8103e"/>
<circle cx="306.9" cy="414.51" r="1.8" fill="#a8103e"/>
<circle cx="261.6" cy="404.15" r="1.8" fill="#7ab050"/>
<circle cx="306.9" cy="419.48" r="1.8" fill="#7ab050"/>
<circle cx="261.6" cy="350.26" r="1.8" fill="#e0a23a"/>
<circle cx="306.9" cy="398.97" r="1.8" fill="#e0a23a"/>
<circle cx="261.6" cy="404.15" r="1.8" fill="#3a2a52"/>
<circle cx="306.9" cy="414.10" r="1.8" fill="#3a2a52"/>
<line x1="314.60" y1="345.30" x2="323.80" y2="345.30" stroke="#1f4a70" stroke-width="1.3"/>
<circle cx="319.2" cy="345.3" r="1.5" fill="#1f4a70"/>
<text x="329.10" y="347.60" font-size="6.6" text-anchor="start" font-weight="normal" fill="#2a2a2a" stroke="#2a2a2a" stroke-width="0.1" textLength="14.5" lengthAdjust="spacingAndGlyphs">Pt #1</text>
<line x1="314.60" y1="356.30" x2="323.80" y2="356.30" stroke="#a8103e" stroke-width="1.3"/>
<circle cx="319.2" cy="356.3" r="1.5" fill="#a8103e"/>
<text x="329.10" y="358.60" font-size="6.6" text-anchor="start" font-weight="normal" fill="#2a2a2a" stroke="#2a2a2a" stroke-width="0.1" textLength="14.5" lengthAdjust="spacingAndGlyphs">Pt #2</text>
<line x1="314.60" y1="367.60" x2="323.80" y2="367.60" stroke="#7ab050" stroke-width="1.3"/>
<circle cx="319.2" cy="367.6" r="1.5" fill="#7ab050"/>
<text x="329.10" y="369.90" font-size="6.6" text-anchor="start" font-weight="normal" fill="#2a2a2a" stroke="#2a2a2a" stroke-width="0.1" textLength="14.5" lengthAdjust="spacingAndGlyphs">Pt #3</text>
<line x1="314.60" y1="379.00" x2="323.80" y2="379.00" stroke="#e0a23a" stroke-width="1.3"/>
<circle cx="319.2" cy="379.0" r="1.5" fill="#e0a23a"/>
<text x="329.10" y="381.30" font-size="6.6" text-anchor="start" font-weight="normal" fill="#2a2a2a" stroke="#2a2a2a" stroke-width="0.1" textLength="14.5" lengthAdjust="spacingAndGlyphs">Pt #5</text>
<line x1="314.60" y1="390.50" x2="323.80" y2="390.50" stroke="#3a2a52" stroke-width="1.3"/>
<circle cx="319.2" cy="390.5" r="1.5" fill="#3a2a52"/>
<text x="329.10" y="392.80" font-size="6.6" text-anchor="start" font-weight="normal" fill="#2a2a2a" stroke="#2a2a2a" stroke-width="0.1" textLength="14.5" lengthAdjust="spacingAndGlyphs">Pt #6</text>
<rect x="0.00" y="0.00" width="520.00" height="1.40" fill="#000"/>
<rect x="0.00" y="0.00" width="1.20" height="456.00" fill="#000"/>
<rect x="518.40" y="0.00" width="1.60" height="456.00" fill="#000"/>
<rect x="0.00" y="454.00" width="520.00" height="2.00" fill="#000"/>
</svg>
</body></html>
